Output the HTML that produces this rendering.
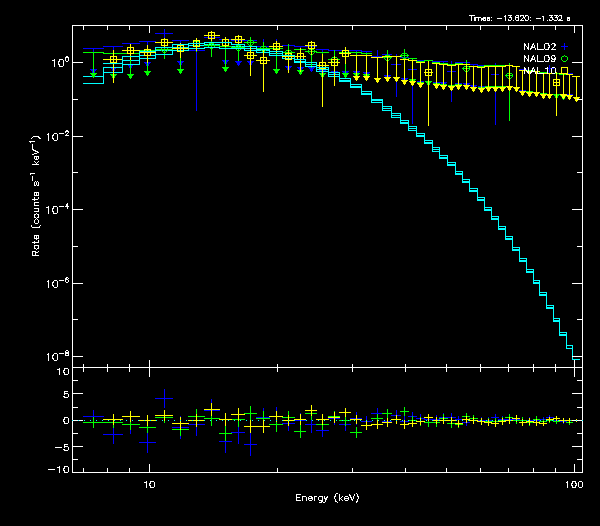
<!DOCTYPE html>
<html><head><meta charset="utf-8"><title>plot</title>
<style>
html,body{margin:0;padding:0;background:#000;overflow:hidden}
svg{display:block}
text{font-family:"Liberation Sans",sans-serif;fill:#fff}
</style></head><body>
<svg width="600" height="526" viewBox="0 0 600 526" shape-rendering="crispEdges">
<desc>Times: -13.620: -1.332 s. Rate (counts s-1 keV-1) versus Energy (keV). Legend: NAI_02, NAI_09, NAI_10. Residuals from -10 to 10.</desc>
<rect x="0" y="0" width="600" height="526" fill="#000"/>
<rect x="83" y="48" width="21" height="1" fill="#0000ff"/>
<rect x="93" y="48" width="1" height="21" fill="#0000ff"/>
<rect x="90" y="69" width="7" height="1" fill="#0000ff"/>
<rect x="91" y="70" width="5" height="1" fill="#0000ff"/>
<rect x="92" y="71" width="3" height="1" fill="#0000ff"/>
<rect x="92" y="72" width="3" height="1" fill="#0000ff"/>
<rect x="93" y="73" width="1" height="1" fill="#0000ff"/>
<rect x="103" y="46" width="20" height="1" fill="#0000ff"/>
<rect x="113" y="46" width="1" height="21" fill="#0000ff"/>
<rect x="110" y="67" width="7" height="1" fill="#0000ff"/>
<rect x="111" y="68" width="5" height="1" fill="#0000ff"/>
<rect x="112" y="69" width="3" height="1" fill="#0000ff"/>
<rect x="112" y="70" width="3" height="1" fill="#0000ff"/>
<rect x="113" y="71" width="1" height="1" fill="#0000ff"/>
<rect x="122" y="43" width="18" height="1" fill="#0000ff"/>
<rect x="130" y="43" width="1" height="21" fill="#0000ff"/>
<rect x="127" y="64" width="7" height="1" fill="#0000ff"/>
<rect x="128" y="65" width="5" height="1" fill="#0000ff"/>
<rect x="129" y="66" width="3" height="1" fill="#0000ff"/>
<rect x="129" y="67" width="3" height="1" fill="#0000ff"/>
<rect x="130" y="68" width="1" height="1" fill="#0000ff"/>
<rect x="139" y="41" width="17" height="1" fill="#0000ff"/>
<rect x="147" y="41" width="1" height="21" fill="#0000ff"/>
<rect x="144" y="62" width="7" height="1" fill="#0000ff"/>
<rect x="145" y="63" width="5" height="1" fill="#0000ff"/>
<rect x="146" y="64" width="3" height="1" fill="#0000ff"/>
<rect x="146" y="65" width="3" height="1" fill="#0000ff"/>
<rect x="147" y="66" width="1" height="1" fill="#0000ff"/>
<rect x="155" y="33" width="18" height="1" fill="#0000ff"/>
<rect x="164" y="29" width="1" height="10" fill="#0000ff"/>
<rect x="172" y="40" width="17" height="1" fill="#0000ff"/>
<rect x="180" y="40" width="1" height="21" fill="#0000ff"/>
<rect x="177" y="61" width="7" height="1" fill="#0000ff"/>
<rect x="178" y="62" width="5" height="1" fill="#0000ff"/>
<rect x="179" y="63" width="3" height="1" fill="#0000ff"/>
<rect x="179" y="64" width="3" height="1" fill="#0000ff"/>
<rect x="180" y="65" width="1" height="1" fill="#0000ff"/>
<rect x="188" y="50" width="17" height="1" fill="#0000ff"/>
<rect x="196" y="40" width="1" height="71" fill="#0000ff"/>
<rect x="204" y="37" width="16" height="1" fill="#0000ff"/>
<rect x="211" y="31" width="1" height="14" fill="#0000ff"/>
<rect x="219" y="39" width="13" height="1" fill="#0000ff"/>
<rect x="225" y="39" width="1" height="21" fill="#0000ff"/>
<rect x="222" y="60" width="7" height="1" fill="#0000ff"/>
<rect x="223" y="61" width="5" height="1" fill="#0000ff"/>
<rect x="224" y="62" width="3" height="1" fill="#0000ff"/>
<rect x="224" y="63" width="3" height="1" fill="#0000ff"/>
<rect x="225" y="64" width="1" height="1" fill="#0000ff"/>
<rect x="231" y="40" width="14" height="1" fill="#0000ff"/>
<rect x="238" y="40" width="1" height="21" fill="#0000ff"/>
<rect x="235" y="61" width="7" height="1" fill="#0000ff"/>
<rect x="236" y="62" width="5" height="1" fill="#0000ff"/>
<rect x="237" y="63" width="3" height="1" fill="#0000ff"/>
<rect x="237" y="64" width="3" height="1" fill="#0000ff"/>
<rect x="238" y="65" width="1" height="1" fill="#0000ff"/>
<rect x="244" y="40" width="13" height="1" fill="#0000ff"/>
<rect x="250" y="40" width="1" height="21" fill="#0000ff"/>
<rect x="247" y="61" width="7" height="1" fill="#0000ff"/>
<rect x="248" y="62" width="5" height="1" fill="#0000ff"/>
<rect x="249" y="63" width="3" height="1" fill="#0000ff"/>
<rect x="249" y="64" width="3" height="1" fill="#0000ff"/>
<rect x="250" y="65" width="1" height="1" fill="#0000ff"/>
<rect x="256" y="46" width="14" height="1" fill="#0000ff"/>
<rect x="263" y="39" width="1" height="18" fill="#0000ff"/>
<rect x="269" y="46" width="14" height="1" fill="#0000ff"/>
<rect x="276" y="39" width="1" height="17" fill="#0000ff"/>
<rect x="282" y="45" width="13" height="1" fill="#0000ff"/>
<rect x="288" y="45" width="1" height="21" fill="#0000ff"/>
<rect x="285" y="66" width="7" height="1" fill="#0000ff"/>
<rect x="286" y="67" width="5" height="1" fill="#0000ff"/>
<rect x="287" y="68" width="3" height="1" fill="#0000ff"/>
<rect x="287" y="69" width="3" height="1" fill="#0000ff"/>
<rect x="288" y="70" width="1" height="1" fill="#0000ff"/>
<rect x="294" y="46" width="12" height="1" fill="#0000ff"/>
<rect x="300" y="46" width="1" height="21" fill="#0000ff"/>
<rect x="297" y="67" width="7" height="1" fill="#0000ff"/>
<rect x="298" y="68" width="5" height="1" fill="#0000ff"/>
<rect x="299" y="69" width="3" height="1" fill="#0000ff"/>
<rect x="299" y="70" width="3" height="1" fill="#0000ff"/>
<rect x="300" y="71" width="1" height="1" fill="#0000ff"/>
<rect x="305" y="46" width="12" height="1" fill="#0000ff"/>
<rect x="311" y="46" width="1" height="21" fill="#0000ff"/>
<rect x="308" y="67" width="7" height="1" fill="#0000ff"/>
<rect x="309" y="68" width="5" height="1" fill="#0000ff"/>
<rect x="310" y="69" width="3" height="1" fill="#0000ff"/>
<rect x="310" y="70" width="3" height="1" fill="#0000ff"/>
<rect x="311" y="71" width="1" height="1" fill="#0000ff"/>
<rect x="316" y="49" width="13" height="1" fill="#0000ff"/>
<rect x="322" y="49" width="1" height="21" fill="#0000ff"/>
<rect x="319" y="70" width="7" height="1" fill="#0000ff"/>
<rect x="320" y="71" width="5" height="1" fill="#0000ff"/>
<rect x="321" y="72" width="3" height="1" fill="#0000ff"/>
<rect x="321" y="73" width="3" height="1" fill="#0000ff"/>
<rect x="322" y="74" width="1" height="1" fill="#0000ff"/>
<rect x="328" y="50" width="12" height="1" fill="#0000ff"/>
<rect x="334" y="50" width="1" height="21" fill="#0000ff"/>
<rect x="331" y="71" width="7" height="1" fill="#0000ff"/>
<rect x="332" y="72" width="5" height="1" fill="#0000ff"/>
<rect x="333" y="73" width="3" height="1" fill="#0000ff"/>
<rect x="333" y="74" width="3" height="1" fill="#0000ff"/>
<rect x="334" y="75" width="1" height="1" fill="#0000ff"/>
<rect x="339" y="50" width="12" height="1" fill="#0000ff"/>
<rect x="345" y="50" width="1" height="21" fill="#0000ff"/>
<rect x="342" y="71" width="7" height="1" fill="#0000ff"/>
<rect x="343" y="72" width="5" height="1" fill="#0000ff"/>
<rect x="344" y="73" width="3" height="1" fill="#0000ff"/>
<rect x="344" y="74" width="3" height="1" fill="#0000ff"/>
<rect x="345" y="75" width="1" height="1" fill="#0000ff"/>
<rect x="350" y="50" width="12" height="1" fill="#0000ff"/>
<rect x="356" y="50" width="1" height="21" fill="#0000ff"/>
<rect x="353" y="71" width="7" height="1" fill="#0000ff"/>
<rect x="354" y="72" width="5" height="1" fill="#0000ff"/>
<rect x="355" y="73" width="3" height="1" fill="#0000ff"/>
<rect x="355" y="74" width="3" height="1" fill="#0000ff"/>
<rect x="356" y="75" width="1" height="1" fill="#0000ff"/>
<rect x="361" y="51" width="11" height="1" fill="#0000ff"/>
<rect x="366" y="51" width="1" height="21" fill="#0000ff"/>
<rect x="363" y="72" width="7" height="1" fill="#0000ff"/>
<rect x="364" y="73" width="5" height="1" fill="#0000ff"/>
<rect x="365" y="74" width="3" height="1" fill="#0000ff"/>
<rect x="365" y="75" width="3" height="1" fill="#0000ff"/>
<rect x="366" y="76" width="1" height="1" fill="#0000ff"/>
<rect x="371" y="56" width="12" height="1" fill="#0000ff"/>
<rect x="377" y="50" width="1" height="15" fill="#0000ff"/>
<rect x="382" y="54" width="10" height="1" fill="#0000ff"/>
<rect x="387" y="54" width="1" height="21" fill="#0000ff"/>
<rect x="384" y="75" width="7" height="1" fill="#0000ff"/>
<rect x="385" y="76" width="5" height="1" fill="#0000ff"/>
<rect x="386" y="77" width="3" height="1" fill="#0000ff"/>
<rect x="386" y="78" width="3" height="1" fill="#0000ff"/>
<rect x="387" y="79" width="1" height="1" fill="#0000ff"/>
<rect x="391" y="64" width="10" height="1" fill="#0000ff"/>
<rect x="396" y="54" width="1" height="43" fill="#0000ff"/>
<rect x="400" y="57" width="9" height="1" fill="#0000ff"/>
<rect x="404" y="57" width="1" height="21" fill="#0000ff"/>
<rect x="401" y="78" width="7" height="1" fill="#0000ff"/>
<rect x="402" y="79" width="5" height="1" fill="#0000ff"/>
<rect x="403" y="80" width="3" height="1" fill="#0000ff"/>
<rect x="403" y="81" width="3" height="1" fill="#0000ff"/>
<rect x="404" y="82" width="1" height="1" fill="#0000ff"/>
<rect x="408" y="69" width="9" height="1" fill="#0000ff"/>
<rect x="412" y="58" width="1" height="66" fill="#0000ff"/>
<rect x="416" y="60" width="9" height="1" fill="#0000ff"/>
<rect x="420" y="60" width="1" height="21" fill="#0000ff"/>
<rect x="417" y="81" width="7" height="1" fill="#0000ff"/>
<rect x="418" y="82" width="5" height="1" fill="#0000ff"/>
<rect x="419" y="83" width="3" height="1" fill="#0000ff"/>
<rect x="419" y="84" width="3" height="1" fill="#0000ff"/>
<rect x="420" y="85" width="1" height="1" fill="#0000ff"/>
<rect x="424" y="60" width="9" height="1" fill="#0000ff"/>
<rect x="428" y="60" width="1" height="21" fill="#0000ff"/>
<rect x="425" y="81" width="7" height="1" fill="#0000ff"/>
<rect x="426" y="82" width="5" height="1" fill="#0000ff"/>
<rect x="427" y="83" width="3" height="1" fill="#0000ff"/>
<rect x="427" y="84" width="3" height="1" fill="#0000ff"/>
<rect x="428" y="85" width="1" height="1" fill="#0000ff"/>
<rect x="432" y="61" width="8" height="1" fill="#0000ff"/>
<rect x="436" y="61" width="1" height="21" fill="#0000ff"/>
<rect x="433" y="82" width="7" height="1" fill="#0000ff"/>
<rect x="434" y="83" width="5" height="1" fill="#0000ff"/>
<rect x="435" y="84" width="3" height="1" fill="#0000ff"/>
<rect x="435" y="85" width="3" height="1" fill="#0000ff"/>
<rect x="436" y="86" width="1" height="1" fill="#0000ff"/>
<rect x="439" y="61" width="9" height="1" fill="#0000ff"/>
<rect x="443" y="61" width="1" height="21" fill="#0000ff"/>
<rect x="440" y="82" width="7" height="1" fill="#0000ff"/>
<rect x="441" y="83" width="5" height="1" fill="#0000ff"/>
<rect x="442" y="84" width="3" height="1" fill="#0000ff"/>
<rect x="442" y="85" width="3" height="1" fill="#0000ff"/>
<rect x="443" y="86" width="1" height="1" fill="#0000ff"/>
<rect x="447" y="71" width="9" height="1" fill="#0000ff"/>
<rect x="451" y="61" width="1" height="41" fill="#0000ff"/>
<rect x="455" y="62" width="8" height="1" fill="#0000ff"/>
<rect x="458" y="62" width="1" height="21" fill="#0000ff"/>
<rect x="455" y="83" width="7" height="1" fill="#0000ff"/>
<rect x="456" y="84" width="5" height="1" fill="#0000ff"/>
<rect x="457" y="85" width="3" height="1" fill="#0000ff"/>
<rect x="457" y="86" width="3" height="1" fill="#0000ff"/>
<rect x="458" y="87" width="1" height="1" fill="#0000ff"/>
<rect x="462" y="62" width="8" height="1" fill="#0000ff"/>
<rect x="466" y="62" width="1" height="21" fill="#0000ff"/>
<rect x="463" y="83" width="7" height="1" fill="#0000ff"/>
<rect x="464" y="84" width="5" height="1" fill="#0000ff"/>
<rect x="465" y="85" width="3" height="1" fill="#0000ff"/>
<rect x="465" y="86" width="3" height="1" fill="#0000ff"/>
<rect x="466" y="87" width="1" height="1" fill="#0000ff"/>
<rect x="469" y="64" width="9" height="1" fill="#0000ff"/>
<rect x="473" y="64" width="1" height="21" fill="#0000ff"/>
<rect x="470" y="85" width="7" height="1" fill="#0000ff"/>
<rect x="471" y="86" width="5" height="1" fill="#0000ff"/>
<rect x="472" y="87" width="3" height="1" fill="#0000ff"/>
<rect x="472" y="88" width="3" height="1" fill="#0000ff"/>
<rect x="473" y="89" width="1" height="1" fill="#0000ff"/>
<rect x="477" y="65" width="8" height="1" fill="#0000ff"/>
<rect x="481" y="65" width="1" height="21" fill="#0000ff"/>
<rect x="478" y="86" width="7" height="1" fill="#0000ff"/>
<rect x="479" y="87" width="5" height="1" fill="#0000ff"/>
<rect x="480" y="88" width="3" height="1" fill="#0000ff"/>
<rect x="480" y="89" width="3" height="1" fill="#0000ff"/>
<rect x="481" y="90" width="1" height="1" fill="#0000ff"/>
<rect x="484" y="65" width="8" height="1" fill="#0000ff"/>
<rect x="488" y="65" width="1" height="21" fill="#0000ff"/>
<rect x="485" y="86" width="7" height="1" fill="#0000ff"/>
<rect x="486" y="87" width="5" height="1" fill="#0000ff"/>
<rect x="487" y="88" width="3" height="1" fill="#0000ff"/>
<rect x="487" y="89" width="3" height="1" fill="#0000ff"/>
<rect x="488" y="90" width="1" height="1" fill="#0000ff"/>
<rect x="491" y="74" width="8" height="1" fill="#0000ff"/>
<rect x="495" y="63" width="1" height="62" fill="#0000ff"/>
<rect x="498" y="65" width="8" height="1" fill="#0000ff"/>
<rect x="502" y="65" width="1" height="21" fill="#0000ff"/>
<rect x="499" y="86" width="7" height="1" fill="#0000ff"/>
<rect x="500" y="87" width="5" height="1" fill="#0000ff"/>
<rect x="501" y="88" width="3" height="1" fill="#0000ff"/>
<rect x="501" y="89" width="3" height="1" fill="#0000ff"/>
<rect x="502" y="90" width="1" height="1" fill="#0000ff"/>
<rect x="505" y="65" width="8" height="1" fill="#0000ff"/>
<rect x="509" y="65" width="1" height="21" fill="#0000ff"/>
<rect x="506" y="86" width="7" height="1" fill="#0000ff"/>
<rect x="507" y="87" width="5" height="1" fill="#0000ff"/>
<rect x="508" y="88" width="3" height="1" fill="#0000ff"/>
<rect x="508" y="89" width="3" height="1" fill="#0000ff"/>
<rect x="509" y="90" width="1" height="1" fill="#0000ff"/>
<rect x="512" y="66" width="8" height="1" fill="#0000ff"/>
<rect x="516" y="66" width="1" height="21" fill="#0000ff"/>
<rect x="513" y="87" width="7" height="1" fill="#0000ff"/>
<rect x="514" y="88" width="5" height="1" fill="#0000ff"/>
<rect x="515" y="89" width="3" height="1" fill="#0000ff"/>
<rect x="515" y="90" width="3" height="1" fill="#0000ff"/>
<rect x="516" y="91" width="1" height="1" fill="#0000ff"/>
<rect x="519" y="69" width="8" height="1" fill="#0000ff"/>
<rect x="522" y="69" width="1" height="21" fill="#0000ff"/>
<rect x="519" y="90" width="7" height="1" fill="#0000ff"/>
<rect x="520" y="91" width="5" height="1" fill="#0000ff"/>
<rect x="521" y="92" width="3" height="1" fill="#0000ff"/>
<rect x="521" y="93" width="3" height="1" fill="#0000ff"/>
<rect x="522" y="94" width="1" height="1" fill="#0000ff"/>
<rect x="526" y="71" width="8" height="1" fill="#0000ff"/>
<rect x="529" y="71" width="1" height="21" fill="#0000ff"/>
<rect x="526" y="92" width="7" height="1" fill="#0000ff"/>
<rect x="527" y="93" width="5" height="1" fill="#0000ff"/>
<rect x="528" y="94" width="3" height="1" fill="#0000ff"/>
<rect x="528" y="95" width="3" height="1" fill="#0000ff"/>
<rect x="529" y="96" width="1" height="1" fill="#0000ff"/>
<rect x="533" y="71" width="7" height="1" fill="#0000ff"/>
<rect x="536" y="71" width="1" height="21" fill="#0000ff"/>
<rect x="533" y="92" width="7" height="1" fill="#0000ff"/>
<rect x="534" y="93" width="5" height="1" fill="#0000ff"/>
<rect x="535" y="94" width="3" height="1" fill="#0000ff"/>
<rect x="535" y="95" width="3" height="1" fill="#0000ff"/>
<rect x="536" y="96" width="1" height="1" fill="#0000ff"/>
<rect x="539" y="73" width="8" height="1" fill="#0000ff"/>
<rect x="543" y="73" width="1" height="21" fill="#0000ff"/>
<rect x="540" y="94" width="7" height="1" fill="#0000ff"/>
<rect x="541" y="95" width="5" height="1" fill="#0000ff"/>
<rect x="542" y="96" width="3" height="1" fill="#0000ff"/>
<rect x="542" y="97" width="3" height="1" fill="#0000ff"/>
<rect x="543" y="98" width="1" height="1" fill="#0000ff"/>
<rect x="546" y="68" width="8" height="1" fill="#0000ff"/>
<rect x="549" y="65" width="1" height="8" fill="#0000ff"/>
<rect x="553" y="73" width="7" height="1" fill="#0000ff"/>
<rect x="556" y="73" width="1" height="21" fill="#0000ff"/>
<rect x="553" y="94" width="7" height="1" fill="#0000ff"/>
<rect x="554" y="95" width="5" height="1" fill="#0000ff"/>
<rect x="555" y="96" width="3" height="1" fill="#0000ff"/>
<rect x="555" y="97" width="3" height="1" fill="#0000ff"/>
<rect x="556" y="98" width="1" height="1" fill="#0000ff"/>
<rect x="559" y="73" width="8" height="1" fill="#0000ff"/>
<rect x="563" y="73" width="1" height="21" fill="#0000ff"/>
<rect x="560" y="94" width="7" height="1" fill="#0000ff"/>
<rect x="561" y="95" width="5" height="1" fill="#0000ff"/>
<rect x="562" y="96" width="3" height="1" fill="#0000ff"/>
<rect x="562" y="97" width="3" height="1" fill="#0000ff"/>
<rect x="563" y="98" width="1" height="1" fill="#0000ff"/>
<rect x="566" y="73" width="7" height="1" fill="#0000ff"/>
<rect x="569" y="73" width="1" height="21" fill="#0000ff"/>
<rect x="566" y="94" width="7" height="1" fill="#0000ff"/>
<rect x="567" y="95" width="5" height="1" fill="#0000ff"/>
<rect x="568" y="96" width="3" height="1" fill="#0000ff"/>
<rect x="568" y="97" width="3" height="1" fill="#0000ff"/>
<rect x="569" y="98" width="1" height="1" fill="#0000ff"/>
<rect x="83" y="76" width="21" height="1" fill="#00ffff"/>
<rect x="103" y="67" width="20" height="1" fill="#00ffff"/>
<rect x="103" y="67" width="1" height="10" fill="#00ffff"/>
<rect x="122" y="60" width="18" height="1" fill="#00ffff"/>
<rect x="122" y="60" width="1" height="8" fill="#00ffff"/>
<rect x="139" y="55" width="17" height="1" fill="#00ffff"/>
<rect x="139" y="55" width="1" height="6" fill="#00ffff"/>
<rect x="155" y="50" width="18" height="1" fill="#00ffff"/>
<rect x="155" y="50" width="1" height="6" fill="#00ffff"/>
<rect x="172" y="47" width="17" height="1" fill="#00ffff"/>
<rect x="172" y="47" width="1" height="4" fill="#00ffff"/>
<rect x="188" y="45" width="17" height="1" fill="#00ffff"/>
<rect x="188" y="45" width="1" height="3" fill="#00ffff"/>
<rect x="204" y="44" width="16" height="1" fill="#00ffff"/>
<rect x="204" y="44" width="1" height="2" fill="#00ffff"/>
<rect x="219" y="46" width="13" height="1" fill="#00ffff"/>
<rect x="219" y="44" width="1" height="3" fill="#00ffff"/>
<rect x="231" y="46" width="14" height="1" fill="#00ffff"/>
<rect x="231" y="46" width="1" height="1" fill="#00ffff"/>
<rect x="244" y="48" width="13" height="1" fill="#00ffff"/>
<rect x="244" y="46" width="1" height="3" fill="#00ffff"/>
<rect x="256" y="50" width="14" height="1" fill="#00ffff"/>
<rect x="256" y="48" width="1" height="3" fill="#00ffff"/>
<rect x="269" y="53" width="14" height="1" fill="#00ffff"/>
<rect x="269" y="50" width="1" height="4" fill="#00ffff"/>
<rect x="282" y="56" width="13" height="1" fill="#00ffff"/>
<rect x="282" y="53" width="1" height="4" fill="#00ffff"/>
<rect x="294" y="61" width="12" height="1" fill="#00ffff"/>
<rect x="294" y="56" width="1" height="6" fill="#00ffff"/>
<rect x="305" y="64" width="12" height="1" fill="#00ffff"/>
<rect x="305" y="61" width="1" height="4" fill="#00ffff"/>
<rect x="316" y="69" width="13" height="1" fill="#00ffff"/>
<rect x="316" y="64" width="1" height="6" fill="#00ffff"/>
<rect x="328" y="74" width="12" height="1" fill="#00ffff"/>
<rect x="328" y="69" width="1" height="6" fill="#00ffff"/>
<rect x="339" y="80" width="12" height="1" fill="#00ffff"/>
<rect x="339" y="74" width="1" height="7" fill="#00ffff"/>
<rect x="350" y="86" width="12" height="1" fill="#00ffff"/>
<rect x="350" y="80" width="1" height="7" fill="#00ffff"/>
<rect x="361" y="93" width="11" height="1" fill="#00ffff"/>
<rect x="361" y="86" width="1" height="8" fill="#00ffff"/>
<rect x="371" y="100" width="12" height="1" fill="#00ffff"/>
<rect x="371" y="93" width="1" height="8" fill="#00ffff"/>
<rect x="382" y="108" width="10" height="1" fill="#00ffff"/>
<rect x="382" y="100" width="1" height="9" fill="#00ffff"/>
<rect x="391" y="115" width="10" height="1" fill="#00ffff"/>
<rect x="391" y="108" width="1" height="8" fill="#00ffff"/>
<rect x="400" y="122" width="9" height="1" fill="#00ffff"/>
<rect x="400" y="115" width="1" height="8" fill="#00ffff"/>
<rect x="408" y="128" width="9" height="1" fill="#00ffff"/>
<rect x="408" y="122" width="1" height="7" fill="#00ffff"/>
<rect x="416" y="135" width="9" height="1" fill="#00ffff"/>
<rect x="416" y="128" width="1" height="8" fill="#00ffff"/>
<rect x="424" y="142" width="9" height="1" fill="#00ffff"/>
<rect x="424" y="135" width="1" height="8" fill="#00ffff"/>
<rect x="432" y="149" width="8" height="1" fill="#00ffff"/>
<rect x="432" y="142" width="1" height="8" fill="#00ffff"/>
<rect x="439" y="157" width="9" height="1" fill="#00ffff"/>
<rect x="439" y="149" width="1" height="9" fill="#00ffff"/>
<rect x="447" y="164" width="9" height="1" fill="#00ffff"/>
<rect x="447" y="157" width="1" height="8" fill="#00ffff"/>
<rect x="455" y="173" width="8" height="1" fill="#00ffff"/>
<rect x="455" y="164" width="1" height="10" fill="#00ffff"/>
<rect x="462" y="181" width="8" height="1" fill="#00ffff"/>
<rect x="462" y="173" width="1" height="9" fill="#00ffff"/>
<rect x="469" y="190" width="9" height="1" fill="#00ffff"/>
<rect x="469" y="181" width="1" height="10" fill="#00ffff"/>
<rect x="477" y="199" width="8" height="1" fill="#00ffff"/>
<rect x="477" y="190" width="1" height="10" fill="#00ffff"/>
<rect x="484" y="209" width="8" height="1" fill="#00ffff"/>
<rect x="484" y="199" width="1" height="11" fill="#00ffff"/>
<rect x="491" y="218" width="8" height="1" fill="#00ffff"/>
<rect x="491" y="209" width="1" height="10" fill="#00ffff"/>
<rect x="498" y="228" width="8" height="1" fill="#00ffff"/>
<rect x="498" y="218" width="1" height="11" fill="#00ffff"/>
<rect x="505" y="238" width="8" height="1" fill="#00ffff"/>
<rect x="505" y="228" width="1" height="11" fill="#00ffff"/>
<rect x="512" y="249" width="8" height="1" fill="#00ffff"/>
<rect x="512" y="238" width="1" height="12" fill="#00ffff"/>
<rect x="519" y="260" width="8" height="1" fill="#00ffff"/>
<rect x="519" y="249" width="1" height="12" fill="#00ffff"/>
<rect x="526" y="271" width="8" height="1" fill="#00ffff"/>
<rect x="526" y="260" width="1" height="12" fill="#00ffff"/>
<rect x="533" y="282" width="7" height="1" fill="#00ffff"/>
<rect x="533" y="271" width="1" height="12" fill="#00ffff"/>
<rect x="539" y="294" width="8" height="1" fill="#00ffff"/>
<rect x="539" y="282" width="1" height="13" fill="#00ffff"/>
<rect x="546" y="307" width="8" height="1" fill="#00ffff"/>
<rect x="546" y="294" width="1" height="14" fill="#00ffff"/>
<rect x="553" y="320" width="7" height="1" fill="#00ffff"/>
<rect x="553" y="307" width="1" height="14" fill="#00ffff"/>
<rect x="559" y="334" width="8" height="1" fill="#00ffff"/>
<rect x="559" y="320" width="1" height="15" fill="#00ffff"/>
<rect x="566" y="348" width="7" height="1" fill="#00ffff"/>
<rect x="566" y="334" width="1" height="15" fill="#00ffff"/>
<rect x="83" y="52" width="21" height="1" fill="#00ff00"/>
<rect x="93" y="52" width="1" height="21" fill="#00ff00"/>
<rect x="90" y="73" width="7" height="1" fill="#00ff00"/>
<rect x="91" y="74" width="5" height="1" fill="#00ff00"/>
<rect x="92" y="75" width="3" height="1" fill="#00ff00"/>
<rect x="92" y="76" width="3" height="1" fill="#00ff00"/>
<rect x="93" y="77" width="1" height="1" fill="#00ff00"/>
<rect x="103" y="53" width="20" height="1" fill="#00ff00"/>
<rect x="113" y="53" width="1" height="21" fill="#00ff00"/>
<rect x="110" y="74" width="7" height="1" fill="#00ff00"/>
<rect x="111" y="75" width="5" height="1" fill="#00ff00"/>
<rect x="112" y="76" width="3" height="1" fill="#00ff00"/>
<rect x="112" y="77" width="3" height="1" fill="#00ff00"/>
<rect x="113" y="78" width="1" height="1" fill="#00ff00"/>
<rect x="122" y="53" width="18" height="1" fill="#00ff00"/>
<rect x="130" y="53" width="1" height="21" fill="#00ff00"/>
<rect x="127" y="74" width="7" height="1" fill="#00ff00"/>
<rect x="128" y="75" width="5" height="1" fill="#00ff00"/>
<rect x="129" y="76" width="3" height="1" fill="#00ff00"/>
<rect x="129" y="77" width="3" height="1" fill="#00ff00"/>
<rect x="130" y="78" width="1" height="1" fill="#00ff00"/>
<rect x="139" y="50" width="17" height="1" fill="#00ff00"/>
<rect x="147" y="50" width="1" height="21" fill="#00ff00"/>
<rect x="144" y="71" width="7" height="1" fill="#00ff00"/>
<rect x="145" y="72" width="5" height="1" fill="#00ff00"/>
<rect x="146" y="73" width="3" height="1" fill="#00ff00"/>
<rect x="146" y="74" width="3" height="1" fill="#00ff00"/>
<rect x="147" y="75" width="1" height="1" fill="#00ff00"/>
<rect x="155" y="49" width="18" height="1" fill="#00ff00"/>
<rect x="164" y="46" width="1" height="13" fill="#00ff00"/>
<rect x="164" y="46" width="1" height="1" fill="#00ff00"/>
<rect x="162" y="47" width="1" height="1" fill="#00ff00"/>
<rect x="163" y="47" width="1" height="1" fill="#00ff00"/>
<rect x="165" y="47" width="1" height="1" fill="#00ff00"/>
<rect x="166" y="47" width="1" height="1" fill="#00ff00"/>
<rect x="161" y="48" width="1" height="1" fill="#00ff00"/>
<rect x="167" y="48" width="1" height="1" fill="#00ff00"/>
<rect x="161" y="49" width="1" height="1" fill="#00ff00"/>
<rect x="167" y="49" width="1" height="1" fill="#00ff00"/>
<rect x="161" y="50" width="1" height="1" fill="#00ff00"/>
<rect x="167" y="50" width="1" height="1" fill="#00ff00"/>
<rect x="162" y="51" width="1" height="1" fill="#00ff00"/>
<rect x="166" y="51" width="1" height="1" fill="#00ff00"/>
<rect x="163" y="52" width="1" height="1" fill="#00ff00"/>
<rect x="164" y="52" width="1" height="1" fill="#00ff00"/>
<rect x="165" y="52" width="1" height="1" fill="#00ff00"/>
<rect x="172" y="48" width="17" height="1" fill="#00ff00"/>
<rect x="180" y="48" width="1" height="21" fill="#00ff00"/>
<rect x="177" y="69" width="7" height="1" fill="#00ff00"/>
<rect x="178" y="70" width="5" height="1" fill="#00ff00"/>
<rect x="179" y="71" width="3" height="1" fill="#00ff00"/>
<rect x="179" y="72" width="3" height="1" fill="#00ff00"/>
<rect x="180" y="73" width="1" height="1" fill="#00ff00"/>
<rect x="188" y="43" width="17" height="1" fill="#00ff00"/>
<rect x="196" y="40" width="1" height="12" fill="#00ff00"/>
<rect x="196" y="40" width="1" height="1" fill="#00ff00"/>
<rect x="194" y="41" width="1" height="1" fill="#00ff00"/>
<rect x="195" y="41" width="1" height="1" fill="#00ff00"/>
<rect x="197" y="41" width="1" height="1" fill="#00ff00"/>
<rect x="198" y="41" width="1" height="1" fill="#00ff00"/>
<rect x="193" y="42" width="1" height="1" fill="#00ff00"/>
<rect x="199" y="42" width="1" height="1" fill="#00ff00"/>
<rect x="193" y="43" width="1" height="1" fill="#00ff00"/>
<rect x="199" y="43" width="1" height="1" fill="#00ff00"/>
<rect x="193" y="44" width="1" height="1" fill="#00ff00"/>
<rect x="199" y="44" width="1" height="1" fill="#00ff00"/>
<rect x="194" y="45" width="1" height="1" fill="#00ff00"/>
<rect x="198" y="45" width="1" height="1" fill="#00ff00"/>
<rect x="195" y="46" width="1" height="1" fill="#00ff00"/>
<rect x="196" y="46" width="1" height="1" fill="#00ff00"/>
<rect x="197" y="46" width="1" height="1" fill="#00ff00"/>
<rect x="204" y="45" width="16" height="1" fill="#00ff00"/>
<rect x="211" y="39" width="1" height="18" fill="#00ff00"/>
<rect x="211" y="42" width="1" height="1" fill="#00ff00"/>
<rect x="209" y="43" width="1" height="1" fill="#00ff00"/>
<rect x="210" y="43" width="1" height="1" fill="#00ff00"/>
<rect x="212" y="43" width="1" height="1" fill="#00ff00"/>
<rect x="213" y="43" width="1" height="1" fill="#00ff00"/>
<rect x="208" y="44" width="1" height="1" fill="#00ff00"/>
<rect x="214" y="44" width="1" height="1" fill="#00ff00"/>
<rect x="208" y="45" width="1" height="1" fill="#00ff00"/>
<rect x="214" y="45" width="1" height="1" fill="#00ff00"/>
<rect x="208" y="46" width="1" height="1" fill="#00ff00"/>
<rect x="214" y="46" width="1" height="1" fill="#00ff00"/>
<rect x="209" y="47" width="1" height="1" fill="#00ff00"/>
<rect x="213" y="47" width="1" height="1" fill="#00ff00"/>
<rect x="210" y="48" width="1" height="1" fill="#00ff00"/>
<rect x="211" y="48" width="1" height="1" fill="#00ff00"/>
<rect x="212" y="48" width="1" height="1" fill="#00ff00"/>
<rect x="219" y="46" width="13" height="1" fill="#00ff00"/>
<rect x="225" y="46" width="1" height="21" fill="#00ff00"/>
<rect x="222" y="67" width="7" height="1" fill="#00ff00"/>
<rect x="223" y="68" width="5" height="1" fill="#00ff00"/>
<rect x="224" y="69" width="3" height="1" fill="#00ff00"/>
<rect x="224" y="70" width="3" height="1" fill="#00ff00"/>
<rect x="225" y="71" width="1" height="1" fill="#00ff00"/>
<rect x="231" y="47" width="14" height="1" fill="#00ff00"/>
<rect x="238" y="43" width="1" height="18" fill="#00ff00"/>
<rect x="238" y="44" width="1" height="1" fill="#00ff00"/>
<rect x="236" y="45" width="1" height="1" fill="#00ff00"/>
<rect x="237" y="45" width="1" height="1" fill="#00ff00"/>
<rect x="239" y="45" width="1" height="1" fill="#00ff00"/>
<rect x="240" y="45" width="1" height="1" fill="#00ff00"/>
<rect x="235" y="46" width="1" height="1" fill="#00ff00"/>
<rect x="241" y="46" width="1" height="1" fill="#00ff00"/>
<rect x="235" y="47" width="1" height="1" fill="#00ff00"/>
<rect x="241" y="47" width="1" height="1" fill="#00ff00"/>
<rect x="235" y="48" width="1" height="1" fill="#00ff00"/>
<rect x="241" y="48" width="1" height="1" fill="#00ff00"/>
<rect x="236" y="49" width="1" height="1" fill="#00ff00"/>
<rect x="240" y="49" width="1" height="1" fill="#00ff00"/>
<rect x="237" y="50" width="1" height="1" fill="#00ff00"/>
<rect x="238" y="50" width="1" height="1" fill="#00ff00"/>
<rect x="239" y="50" width="1" height="1" fill="#00ff00"/>
<rect x="244" y="42" width="13" height="1" fill="#00ff00"/>
<rect x="250" y="37" width="1" height="11" fill="#00ff00"/>
<rect x="250" y="39" width="1" height="1" fill="#00ff00"/>
<rect x="248" y="40" width="1" height="1" fill="#00ff00"/>
<rect x="249" y="40" width="1" height="1" fill="#00ff00"/>
<rect x="251" y="40" width="1" height="1" fill="#00ff00"/>
<rect x="252" y="40" width="1" height="1" fill="#00ff00"/>
<rect x="247" y="41" width="1" height="1" fill="#00ff00"/>
<rect x="253" y="41" width="1" height="1" fill="#00ff00"/>
<rect x="247" y="42" width="1" height="1" fill="#00ff00"/>
<rect x="253" y="42" width="1" height="1" fill="#00ff00"/>
<rect x="247" y="43" width="1" height="1" fill="#00ff00"/>
<rect x="253" y="43" width="1" height="1" fill="#00ff00"/>
<rect x="248" y="44" width="1" height="1" fill="#00ff00"/>
<rect x="252" y="44" width="1" height="1" fill="#00ff00"/>
<rect x="249" y="45" width="1" height="1" fill="#00ff00"/>
<rect x="250" y="45" width="1" height="1" fill="#00ff00"/>
<rect x="251" y="45" width="1" height="1" fill="#00ff00"/>
<rect x="256" y="48" width="14" height="1" fill="#00ff00"/>
<rect x="263" y="42" width="1" height="15" fill="#00ff00"/>
<rect x="263" y="45" width="1" height="1" fill="#00ff00"/>
<rect x="261" y="46" width="1" height="1" fill="#00ff00"/>
<rect x="262" y="46" width="1" height="1" fill="#00ff00"/>
<rect x="264" y="46" width="1" height="1" fill="#00ff00"/>
<rect x="265" y="46" width="1" height="1" fill="#00ff00"/>
<rect x="260" y="47" width="1" height="1" fill="#00ff00"/>
<rect x="266" y="47" width="1" height="1" fill="#00ff00"/>
<rect x="260" y="48" width="1" height="1" fill="#00ff00"/>
<rect x="266" y="48" width="1" height="1" fill="#00ff00"/>
<rect x="260" y="49" width="1" height="1" fill="#00ff00"/>
<rect x="266" y="49" width="1" height="1" fill="#00ff00"/>
<rect x="261" y="50" width="1" height="1" fill="#00ff00"/>
<rect x="265" y="50" width="1" height="1" fill="#00ff00"/>
<rect x="262" y="51" width="1" height="1" fill="#00ff00"/>
<rect x="263" y="51" width="1" height="1" fill="#00ff00"/>
<rect x="264" y="51" width="1" height="1" fill="#00ff00"/>
<rect x="269" y="48" width="14" height="1" fill="#00ff00"/>
<rect x="276" y="48" width="1" height="21" fill="#00ff00"/>
<rect x="273" y="69" width="7" height="1" fill="#00ff00"/>
<rect x="274" y="70" width="5" height="1" fill="#00ff00"/>
<rect x="275" y="71" width="3" height="1" fill="#00ff00"/>
<rect x="275" y="72" width="3" height="1" fill="#00ff00"/>
<rect x="276" y="73" width="1" height="1" fill="#00ff00"/>
<rect x="282" y="52" width="13" height="1" fill="#00ff00"/>
<rect x="288" y="44" width="1" height="17" fill="#00ff00"/>
<rect x="288" y="49" width="1" height="1" fill="#00ff00"/>
<rect x="286" y="50" width="1" height="1" fill="#00ff00"/>
<rect x="287" y="50" width="1" height="1" fill="#00ff00"/>
<rect x="289" y="50" width="1" height="1" fill="#00ff00"/>
<rect x="290" y="50" width="1" height="1" fill="#00ff00"/>
<rect x="285" y="51" width="1" height="1" fill="#00ff00"/>
<rect x="291" y="51" width="1" height="1" fill="#00ff00"/>
<rect x="285" y="52" width="1" height="1" fill="#00ff00"/>
<rect x="291" y="52" width="1" height="1" fill="#00ff00"/>
<rect x="285" y="53" width="1" height="1" fill="#00ff00"/>
<rect x="291" y="53" width="1" height="1" fill="#00ff00"/>
<rect x="286" y="54" width="1" height="1" fill="#00ff00"/>
<rect x="290" y="54" width="1" height="1" fill="#00ff00"/>
<rect x="287" y="55" width="1" height="1" fill="#00ff00"/>
<rect x="288" y="55" width="1" height="1" fill="#00ff00"/>
<rect x="289" y="55" width="1" height="1" fill="#00ff00"/>
<rect x="294" y="49" width="12" height="1" fill="#00ff00"/>
<rect x="300" y="49" width="1" height="21" fill="#00ff00"/>
<rect x="297" y="70" width="7" height="1" fill="#00ff00"/>
<rect x="298" y="71" width="5" height="1" fill="#00ff00"/>
<rect x="299" y="72" width="3" height="1" fill="#00ff00"/>
<rect x="299" y="73" width="3" height="1" fill="#00ff00"/>
<rect x="300" y="74" width="1" height="1" fill="#00ff00"/>
<rect x="305" y="51" width="12" height="1" fill="#00ff00"/>
<rect x="311" y="46" width="1" height="22" fill="#00ff00"/>
<rect x="311" y="48" width="1" height="1" fill="#00ff00"/>
<rect x="309" y="49" width="1" height="1" fill="#00ff00"/>
<rect x="310" y="49" width="1" height="1" fill="#00ff00"/>
<rect x="312" y="49" width="1" height="1" fill="#00ff00"/>
<rect x="313" y="49" width="1" height="1" fill="#00ff00"/>
<rect x="308" y="50" width="1" height="1" fill="#00ff00"/>
<rect x="314" y="50" width="1" height="1" fill="#00ff00"/>
<rect x="308" y="51" width="1" height="1" fill="#00ff00"/>
<rect x="314" y="51" width="1" height="1" fill="#00ff00"/>
<rect x="308" y="52" width="1" height="1" fill="#00ff00"/>
<rect x="314" y="52" width="1" height="1" fill="#00ff00"/>
<rect x="309" y="53" width="1" height="1" fill="#00ff00"/>
<rect x="313" y="53" width="1" height="1" fill="#00ff00"/>
<rect x="310" y="54" width="1" height="1" fill="#00ff00"/>
<rect x="311" y="54" width="1" height="1" fill="#00ff00"/>
<rect x="312" y="54" width="1" height="1" fill="#00ff00"/>
<rect x="316" y="52" width="13" height="1" fill="#00ff00"/>
<rect x="322" y="52" width="1" height="21" fill="#00ff00"/>
<rect x="319" y="73" width="7" height="1" fill="#00ff00"/>
<rect x="320" y="74" width="5" height="1" fill="#00ff00"/>
<rect x="321" y="75" width="3" height="1" fill="#00ff00"/>
<rect x="321" y="76" width="3" height="1" fill="#00ff00"/>
<rect x="322" y="77" width="1" height="1" fill="#00ff00"/>
<rect x="328" y="59" width="12" height="1" fill="#00ff00"/>
<rect x="334" y="50" width="1" height="23" fill="#00ff00"/>
<rect x="334" y="56" width="1" height="1" fill="#00ff00"/>
<rect x="332" y="57" width="1" height="1" fill="#00ff00"/>
<rect x="333" y="57" width="1" height="1" fill="#00ff00"/>
<rect x="335" y="57" width="1" height="1" fill="#00ff00"/>
<rect x="336" y="57" width="1" height="1" fill="#00ff00"/>
<rect x="331" y="58" width="1" height="1" fill="#00ff00"/>
<rect x="337" y="58" width="1" height="1" fill="#00ff00"/>
<rect x="331" y="59" width="1" height="1" fill="#00ff00"/>
<rect x="337" y="59" width="1" height="1" fill="#00ff00"/>
<rect x="331" y="60" width="1" height="1" fill="#00ff00"/>
<rect x="337" y="60" width="1" height="1" fill="#00ff00"/>
<rect x="332" y="61" width="1" height="1" fill="#00ff00"/>
<rect x="336" y="61" width="1" height="1" fill="#00ff00"/>
<rect x="333" y="62" width="1" height="1" fill="#00ff00"/>
<rect x="334" y="62" width="1" height="1" fill="#00ff00"/>
<rect x="335" y="62" width="1" height="1" fill="#00ff00"/>
<rect x="339" y="52" width="12" height="1" fill="#00ff00"/>
<rect x="345" y="52" width="1" height="21" fill="#00ff00"/>
<rect x="342" y="73" width="7" height="1" fill="#00ff00"/>
<rect x="343" y="74" width="5" height="1" fill="#00ff00"/>
<rect x="344" y="75" width="3" height="1" fill="#00ff00"/>
<rect x="344" y="76" width="3" height="1" fill="#00ff00"/>
<rect x="345" y="77" width="1" height="1" fill="#00ff00"/>
<rect x="350" y="52" width="12" height="1" fill="#00ff00"/>
<rect x="356" y="52" width="1" height="21" fill="#00ff00"/>
<rect x="353" y="73" width="7" height="1" fill="#00ff00"/>
<rect x="354" y="74" width="5" height="1" fill="#00ff00"/>
<rect x="355" y="75" width="3" height="1" fill="#00ff00"/>
<rect x="355" y="76" width="3" height="1" fill="#00ff00"/>
<rect x="356" y="77" width="1" height="1" fill="#00ff00"/>
<rect x="361" y="53" width="11" height="1" fill="#00ff00"/>
<rect x="366" y="53" width="1" height="21" fill="#00ff00"/>
<rect x="363" y="74" width="7" height="1" fill="#00ff00"/>
<rect x="364" y="75" width="5" height="1" fill="#00ff00"/>
<rect x="365" y="76" width="3" height="1" fill="#00ff00"/>
<rect x="365" y="77" width="3" height="1" fill="#00ff00"/>
<rect x="366" y="78" width="1" height="1" fill="#00ff00"/>
<rect x="371" y="57" width="12" height="1" fill="#00ff00"/>
<rect x="377" y="57" width="1" height="21" fill="#00ff00"/>
<rect x="374" y="78" width="7" height="1" fill="#00ff00"/>
<rect x="375" y="79" width="5" height="1" fill="#00ff00"/>
<rect x="376" y="80" width="3" height="1" fill="#00ff00"/>
<rect x="376" y="81" width="3" height="1" fill="#00ff00"/>
<rect x="377" y="82" width="1" height="1" fill="#00ff00"/>
<rect x="382" y="57" width="10" height="1" fill="#00ff00"/>
<rect x="387" y="50" width="1" height="21" fill="#00ff00"/>
<rect x="387" y="54" width="1" height="1" fill="#00ff00"/>
<rect x="385" y="55" width="1" height="1" fill="#00ff00"/>
<rect x="386" y="55" width="1" height="1" fill="#00ff00"/>
<rect x="388" y="55" width="1" height="1" fill="#00ff00"/>
<rect x="389" y="55" width="1" height="1" fill="#00ff00"/>
<rect x="384" y="56" width="1" height="1" fill="#00ff00"/>
<rect x="390" y="56" width="1" height="1" fill="#00ff00"/>
<rect x="384" y="57" width="1" height="1" fill="#00ff00"/>
<rect x="390" y="57" width="1" height="1" fill="#00ff00"/>
<rect x="384" y="58" width="1" height="1" fill="#00ff00"/>
<rect x="390" y="58" width="1" height="1" fill="#00ff00"/>
<rect x="385" y="59" width="1" height="1" fill="#00ff00"/>
<rect x="389" y="59" width="1" height="1" fill="#00ff00"/>
<rect x="386" y="60" width="1" height="1" fill="#00ff00"/>
<rect x="387" y="60" width="1" height="1" fill="#00ff00"/>
<rect x="388" y="60" width="1" height="1" fill="#00ff00"/>
<rect x="391" y="56" width="10" height="1" fill="#00ff00"/>
<rect x="396" y="56" width="1" height="21" fill="#00ff00"/>
<rect x="393" y="77" width="7" height="1" fill="#00ff00"/>
<rect x="394" y="78" width="5" height="1" fill="#00ff00"/>
<rect x="395" y="79" width="3" height="1" fill="#00ff00"/>
<rect x="395" y="80" width="3" height="1" fill="#00ff00"/>
<rect x="396" y="81" width="1" height="1" fill="#00ff00"/>
<rect x="400" y="55" width="9" height="1" fill="#00ff00"/>
<rect x="404" y="49" width="1" height="16" fill="#00ff00"/>
<rect x="404" y="52" width="1" height="1" fill="#00ff00"/>
<rect x="402" y="53" width="1" height="1" fill="#00ff00"/>
<rect x="403" y="53" width="1" height="1" fill="#00ff00"/>
<rect x="405" y="53" width="1" height="1" fill="#00ff00"/>
<rect x="406" y="53" width="1" height="1" fill="#00ff00"/>
<rect x="401" y="54" width="1" height="1" fill="#00ff00"/>
<rect x="407" y="54" width="1" height="1" fill="#00ff00"/>
<rect x="401" y="55" width="1" height="1" fill="#00ff00"/>
<rect x="407" y="55" width="1" height="1" fill="#00ff00"/>
<rect x="401" y="56" width="1" height="1" fill="#00ff00"/>
<rect x="407" y="56" width="1" height="1" fill="#00ff00"/>
<rect x="402" y="57" width="1" height="1" fill="#00ff00"/>
<rect x="406" y="57" width="1" height="1" fill="#00ff00"/>
<rect x="403" y="58" width="1" height="1" fill="#00ff00"/>
<rect x="404" y="58" width="1" height="1" fill="#00ff00"/>
<rect x="405" y="58" width="1" height="1" fill="#00ff00"/>
<rect x="408" y="58" width="9" height="1" fill="#00ff00"/>
<rect x="412" y="58" width="1" height="21" fill="#00ff00"/>
<rect x="409" y="79" width="7" height="1" fill="#00ff00"/>
<rect x="410" y="80" width="5" height="1" fill="#00ff00"/>
<rect x="411" y="81" width="3" height="1" fill="#00ff00"/>
<rect x="411" y="82" width="3" height="1" fill="#00ff00"/>
<rect x="412" y="83" width="1" height="1" fill="#00ff00"/>
<rect x="416" y="61" width="9" height="1" fill="#00ff00"/>
<rect x="420" y="61" width="1" height="21" fill="#00ff00"/>
<rect x="417" y="82" width="7" height="1" fill="#00ff00"/>
<rect x="418" y="83" width="5" height="1" fill="#00ff00"/>
<rect x="419" y="84" width="3" height="1" fill="#00ff00"/>
<rect x="419" y="85" width="3" height="1" fill="#00ff00"/>
<rect x="420" y="86" width="1" height="1" fill="#00ff00"/>
<rect x="424" y="60" width="9" height="1" fill="#00ff00"/>
<rect x="428" y="60" width="1" height="21" fill="#00ff00"/>
<rect x="425" y="81" width="7" height="1" fill="#00ff00"/>
<rect x="426" y="82" width="5" height="1" fill="#00ff00"/>
<rect x="427" y="83" width="3" height="1" fill="#00ff00"/>
<rect x="427" y="84" width="3" height="1" fill="#00ff00"/>
<rect x="428" y="85" width="1" height="1" fill="#00ff00"/>
<rect x="432" y="62" width="8" height="1" fill="#00ff00"/>
<rect x="436" y="62" width="1" height="21" fill="#00ff00"/>
<rect x="433" y="83" width="7" height="1" fill="#00ff00"/>
<rect x="434" y="84" width="5" height="1" fill="#00ff00"/>
<rect x="435" y="85" width="3" height="1" fill="#00ff00"/>
<rect x="435" y="86" width="3" height="1" fill="#00ff00"/>
<rect x="436" y="87" width="1" height="1" fill="#00ff00"/>
<rect x="439" y="63" width="9" height="1" fill="#00ff00"/>
<rect x="443" y="63" width="1" height="21" fill="#00ff00"/>
<rect x="440" y="84" width="7" height="1" fill="#00ff00"/>
<rect x="441" y="85" width="5" height="1" fill="#00ff00"/>
<rect x="442" y="86" width="3" height="1" fill="#00ff00"/>
<rect x="442" y="87" width="3" height="1" fill="#00ff00"/>
<rect x="443" y="88" width="1" height="1" fill="#00ff00"/>
<rect x="447" y="64" width="9" height="1" fill="#00ff00"/>
<rect x="451" y="64" width="1" height="21" fill="#00ff00"/>
<rect x="448" y="85" width="7" height="1" fill="#00ff00"/>
<rect x="449" y="86" width="5" height="1" fill="#00ff00"/>
<rect x="450" y="87" width="3" height="1" fill="#00ff00"/>
<rect x="450" y="88" width="3" height="1" fill="#00ff00"/>
<rect x="451" y="89" width="1" height="1" fill="#00ff00"/>
<rect x="455" y="63" width="8" height="1" fill="#00ff00"/>
<rect x="458" y="63" width="1" height="21" fill="#00ff00"/>
<rect x="455" y="84" width="7" height="1" fill="#00ff00"/>
<rect x="456" y="85" width="5" height="1" fill="#00ff00"/>
<rect x="457" y="86" width="3" height="1" fill="#00ff00"/>
<rect x="457" y="87" width="3" height="1" fill="#00ff00"/>
<rect x="458" y="88" width="1" height="1" fill="#00ff00"/>
<rect x="462" y="68" width="8" height="1" fill="#00ff00"/>
<rect x="466" y="60" width="1" height="23" fill="#00ff00"/>
<rect x="466" y="65" width="1" height="1" fill="#00ff00"/>
<rect x="464" y="66" width="1" height="1" fill="#00ff00"/>
<rect x="465" y="66" width="1" height="1" fill="#00ff00"/>
<rect x="467" y="66" width="1" height="1" fill="#00ff00"/>
<rect x="468" y="66" width="1" height="1" fill="#00ff00"/>
<rect x="463" y="67" width="1" height="1" fill="#00ff00"/>
<rect x="469" y="67" width="1" height="1" fill="#00ff00"/>
<rect x="463" y="68" width="1" height="1" fill="#00ff00"/>
<rect x="469" y="68" width="1" height="1" fill="#00ff00"/>
<rect x="463" y="69" width="1" height="1" fill="#00ff00"/>
<rect x="469" y="69" width="1" height="1" fill="#00ff00"/>
<rect x="464" y="70" width="1" height="1" fill="#00ff00"/>
<rect x="468" y="70" width="1" height="1" fill="#00ff00"/>
<rect x="465" y="71" width="1" height="1" fill="#00ff00"/>
<rect x="466" y="71" width="1" height="1" fill="#00ff00"/>
<rect x="467" y="71" width="1" height="1" fill="#00ff00"/>
<rect x="469" y="66" width="9" height="1" fill="#00ff00"/>
<rect x="473" y="66" width="1" height="21" fill="#00ff00"/>
<rect x="470" y="87" width="7" height="1" fill="#00ff00"/>
<rect x="471" y="88" width="5" height="1" fill="#00ff00"/>
<rect x="472" y="89" width="3" height="1" fill="#00ff00"/>
<rect x="472" y="90" width="3" height="1" fill="#00ff00"/>
<rect x="473" y="91" width="1" height="1" fill="#00ff00"/>
<rect x="477" y="66" width="8" height="1" fill="#00ff00"/>
<rect x="481" y="66" width="1" height="21" fill="#00ff00"/>
<rect x="478" y="87" width="7" height="1" fill="#00ff00"/>
<rect x="479" y="88" width="5" height="1" fill="#00ff00"/>
<rect x="480" y="89" width="3" height="1" fill="#00ff00"/>
<rect x="480" y="90" width="3" height="1" fill="#00ff00"/>
<rect x="481" y="91" width="1" height="1" fill="#00ff00"/>
<rect x="484" y="65" width="8" height="1" fill="#00ff00"/>
<rect x="488" y="65" width="1" height="21" fill="#00ff00"/>
<rect x="485" y="86" width="7" height="1" fill="#00ff00"/>
<rect x="486" y="87" width="5" height="1" fill="#00ff00"/>
<rect x="487" y="88" width="3" height="1" fill="#00ff00"/>
<rect x="487" y="89" width="3" height="1" fill="#00ff00"/>
<rect x="488" y="90" width="1" height="1" fill="#00ff00"/>
<rect x="491" y="65" width="8" height="1" fill="#00ff00"/>
<rect x="495" y="65" width="1" height="21" fill="#00ff00"/>
<rect x="492" y="86" width="7" height="1" fill="#00ff00"/>
<rect x="493" y="87" width="5" height="1" fill="#00ff00"/>
<rect x="494" y="88" width="3" height="1" fill="#00ff00"/>
<rect x="494" y="89" width="3" height="1" fill="#00ff00"/>
<rect x="495" y="90" width="1" height="1" fill="#00ff00"/>
<rect x="498" y="65" width="8" height="1" fill="#00ff00"/>
<rect x="502" y="65" width="1" height="21" fill="#00ff00"/>
<rect x="499" y="86" width="7" height="1" fill="#00ff00"/>
<rect x="500" y="87" width="5" height="1" fill="#00ff00"/>
<rect x="501" y="88" width="3" height="1" fill="#00ff00"/>
<rect x="501" y="89" width="3" height="1" fill="#00ff00"/>
<rect x="502" y="90" width="1" height="1" fill="#00ff00"/>
<rect x="505" y="75" width="8" height="1" fill="#00ff00"/>
<rect x="509" y="63" width="1" height="58" fill="#00ff00"/>
<rect x="509" y="72" width="1" height="1" fill="#00ff00"/>
<rect x="507" y="73" width="1" height="1" fill="#00ff00"/>
<rect x="508" y="73" width="1" height="1" fill="#00ff00"/>
<rect x="510" y="73" width="1" height="1" fill="#00ff00"/>
<rect x="511" y="73" width="1" height="1" fill="#00ff00"/>
<rect x="506" y="74" width="1" height="1" fill="#00ff00"/>
<rect x="512" y="74" width="1" height="1" fill="#00ff00"/>
<rect x="506" y="75" width="1" height="1" fill="#00ff00"/>
<rect x="512" y="75" width="1" height="1" fill="#00ff00"/>
<rect x="506" y="76" width="1" height="1" fill="#00ff00"/>
<rect x="512" y="76" width="1" height="1" fill="#00ff00"/>
<rect x="507" y="77" width="1" height="1" fill="#00ff00"/>
<rect x="511" y="77" width="1" height="1" fill="#00ff00"/>
<rect x="508" y="78" width="1" height="1" fill="#00ff00"/>
<rect x="509" y="78" width="1" height="1" fill="#00ff00"/>
<rect x="510" y="78" width="1" height="1" fill="#00ff00"/>
<rect x="512" y="66" width="8" height="1" fill="#00ff00"/>
<rect x="516" y="66" width="1" height="21" fill="#00ff00"/>
<rect x="513" y="87" width="7" height="1" fill="#00ff00"/>
<rect x="514" y="88" width="5" height="1" fill="#00ff00"/>
<rect x="515" y="89" width="3" height="1" fill="#00ff00"/>
<rect x="515" y="90" width="3" height="1" fill="#00ff00"/>
<rect x="516" y="91" width="1" height="1" fill="#00ff00"/>
<rect x="519" y="70" width="8" height="1" fill="#00ff00"/>
<rect x="522" y="70" width="1" height="21" fill="#00ff00"/>
<rect x="519" y="91" width="7" height="1" fill="#00ff00"/>
<rect x="520" y="92" width="5" height="1" fill="#00ff00"/>
<rect x="521" y="93" width="3" height="1" fill="#00ff00"/>
<rect x="521" y="94" width="3" height="1" fill="#00ff00"/>
<rect x="522" y="95" width="1" height="1" fill="#00ff00"/>
<rect x="526" y="70" width="8" height="1" fill="#00ff00"/>
<rect x="529" y="70" width="1" height="21" fill="#00ff00"/>
<rect x="526" y="91" width="7" height="1" fill="#00ff00"/>
<rect x="527" y="92" width="5" height="1" fill="#00ff00"/>
<rect x="528" y="93" width="3" height="1" fill="#00ff00"/>
<rect x="528" y="94" width="3" height="1" fill="#00ff00"/>
<rect x="529" y="95" width="1" height="1" fill="#00ff00"/>
<rect x="533" y="71" width="7" height="1" fill="#00ff00"/>
<rect x="536" y="71" width="1" height="21" fill="#00ff00"/>
<rect x="533" y="92" width="7" height="1" fill="#00ff00"/>
<rect x="534" y="93" width="5" height="1" fill="#00ff00"/>
<rect x="535" y="94" width="3" height="1" fill="#00ff00"/>
<rect x="535" y="95" width="3" height="1" fill="#00ff00"/>
<rect x="536" y="96" width="1" height="1" fill="#00ff00"/>
<rect x="539" y="72" width="8" height="1" fill="#00ff00"/>
<rect x="543" y="72" width="1" height="21" fill="#00ff00"/>
<rect x="540" y="93" width="7" height="1" fill="#00ff00"/>
<rect x="541" y="94" width="5" height="1" fill="#00ff00"/>
<rect x="542" y="95" width="3" height="1" fill="#00ff00"/>
<rect x="542" y="96" width="3" height="1" fill="#00ff00"/>
<rect x="543" y="97" width="1" height="1" fill="#00ff00"/>
<rect x="546" y="73" width="8" height="1" fill="#00ff00"/>
<rect x="549" y="73" width="1" height="21" fill="#00ff00"/>
<rect x="546" y="94" width="7" height="1" fill="#00ff00"/>
<rect x="547" y="95" width="5" height="1" fill="#00ff00"/>
<rect x="548" y="96" width="3" height="1" fill="#00ff00"/>
<rect x="548" y="97" width="3" height="1" fill="#00ff00"/>
<rect x="549" y="98" width="1" height="1" fill="#00ff00"/>
<rect x="553" y="73" width="7" height="1" fill="#00ff00"/>
<rect x="556" y="73" width="1" height="21" fill="#00ff00"/>
<rect x="553" y="94" width="7" height="1" fill="#00ff00"/>
<rect x="554" y="95" width="5" height="1" fill="#00ff00"/>
<rect x="555" y="96" width="3" height="1" fill="#00ff00"/>
<rect x="555" y="97" width="3" height="1" fill="#00ff00"/>
<rect x="556" y="98" width="1" height="1" fill="#00ff00"/>
<rect x="559" y="74" width="8" height="1" fill="#00ff00"/>
<rect x="563" y="74" width="1" height="21" fill="#00ff00"/>
<rect x="560" y="95" width="7" height="1" fill="#00ff00"/>
<rect x="561" y="96" width="5" height="1" fill="#00ff00"/>
<rect x="562" y="97" width="3" height="1" fill="#00ff00"/>
<rect x="562" y="98" width="3" height="1" fill="#00ff00"/>
<rect x="563" y="99" width="1" height="1" fill="#00ff00"/>
<rect x="566" y="74" width="7" height="1" fill="#00ff00"/>
<rect x="569" y="74" width="1" height="21" fill="#00ff00"/>
<rect x="566" y="95" width="7" height="1" fill="#00ff00"/>
<rect x="567" y="96" width="5" height="1" fill="#00ff00"/>
<rect x="568" y="97" width="3" height="1" fill="#00ff00"/>
<rect x="568" y="98" width="3" height="1" fill="#00ff00"/>
<rect x="569" y="99" width="1" height="1" fill="#00ff00"/>
<rect x="83" y="83" width="21" height="1" fill="#00ffff"/>
<rect x="103" y="72" width="20" height="1" fill="#00ffff"/>
<rect x="103" y="72" width="1" height="12" fill="#00ffff"/>
<rect x="122" y="64" width="18" height="1" fill="#00ffff"/>
<rect x="122" y="64" width="1" height="9" fill="#00ffff"/>
<rect x="139" y="58" width="17" height="1" fill="#00ffff"/>
<rect x="139" y="58" width="1" height="7" fill="#00ffff"/>
<rect x="155" y="54" width="18" height="1" fill="#00ffff"/>
<rect x="155" y="54" width="1" height="5" fill="#00ffff"/>
<rect x="172" y="50" width="17" height="1" fill="#00ffff"/>
<rect x="172" y="50" width="1" height="5" fill="#00ffff"/>
<rect x="188" y="48" width="17" height="1" fill="#00ffff"/>
<rect x="188" y="48" width="1" height="3" fill="#00ffff"/>
<rect x="204" y="47" width="16" height="1" fill="#00ffff"/>
<rect x="204" y="47" width="1" height="2" fill="#00ffff"/>
<rect x="219" y="48" width="13" height="1" fill="#00ffff"/>
<rect x="219" y="47" width="1" height="2" fill="#00ffff"/>
<rect x="231" y="48" width="14" height="1" fill="#00ffff"/>
<rect x="231" y="48" width="1" height="1" fill="#00ffff"/>
<rect x="244" y="50" width="13" height="1" fill="#00ffff"/>
<rect x="244" y="48" width="1" height="3" fill="#00ffff"/>
<rect x="256" y="52" width="14" height="1" fill="#00ffff"/>
<rect x="256" y="50" width="1" height="3" fill="#00ffff"/>
<rect x="269" y="55" width="14" height="1" fill="#00ffff"/>
<rect x="269" y="52" width="1" height="4" fill="#00ffff"/>
<rect x="282" y="58" width="13" height="1" fill="#00ffff"/>
<rect x="282" y="55" width="1" height="4" fill="#00ffff"/>
<rect x="294" y="62" width="12" height="1" fill="#00ffff"/>
<rect x="294" y="58" width="1" height="5" fill="#00ffff"/>
<rect x="305" y="66" width="12" height="1" fill="#00ffff"/>
<rect x="305" y="62" width="1" height="5" fill="#00ffff"/>
<rect x="316" y="71" width="13" height="1" fill="#00ffff"/>
<rect x="316" y="66" width="1" height="6" fill="#00ffff"/>
<rect x="328" y="76" width="12" height="1" fill="#00ffff"/>
<rect x="328" y="71" width="1" height="6" fill="#00ffff"/>
<rect x="339" y="81" width="12" height="1" fill="#00ffff"/>
<rect x="339" y="76" width="1" height="6" fill="#00ffff"/>
<rect x="350" y="87" width="12" height="1" fill="#00ffff"/>
<rect x="350" y="81" width="1" height="7" fill="#00ffff"/>
<rect x="361" y="94" width="11" height="1" fill="#00ffff"/>
<rect x="361" y="87" width="1" height="8" fill="#00ffff"/>
<rect x="371" y="102" width="12" height="1" fill="#00ffff"/>
<rect x="371" y="94" width="1" height="9" fill="#00ffff"/>
<rect x="382" y="110" width="10" height="1" fill="#00ffff"/>
<rect x="382" y="102" width="1" height="9" fill="#00ffff"/>
<rect x="391" y="117" width="10" height="1" fill="#00ffff"/>
<rect x="391" y="110" width="1" height="8" fill="#00ffff"/>
<rect x="400" y="123" width="9" height="1" fill="#00ffff"/>
<rect x="400" y="117" width="1" height="7" fill="#00ffff"/>
<rect x="408" y="130" width="9" height="1" fill="#00ffff"/>
<rect x="408" y="123" width="1" height="8" fill="#00ffff"/>
<rect x="416" y="136" width="9" height="1" fill="#00ffff"/>
<rect x="416" y="130" width="1" height="7" fill="#00ffff"/>
<rect x="424" y="143" width="9" height="1" fill="#00ffff"/>
<rect x="424" y="136" width="1" height="8" fill="#00ffff"/>
<rect x="432" y="151" width="8" height="1" fill="#00ffff"/>
<rect x="432" y="143" width="1" height="9" fill="#00ffff"/>
<rect x="439" y="158" width="9" height="1" fill="#00ffff"/>
<rect x="439" y="151" width="1" height="8" fill="#00ffff"/>
<rect x="447" y="165" width="9" height="1" fill="#00ffff"/>
<rect x="447" y="158" width="1" height="8" fill="#00ffff"/>
<rect x="455" y="174" width="8" height="1" fill="#00ffff"/>
<rect x="455" y="165" width="1" height="10" fill="#00ffff"/>
<rect x="462" y="182" width="8" height="1" fill="#00ffff"/>
<rect x="462" y="174" width="1" height="9" fill="#00ffff"/>
<rect x="469" y="191" width="9" height="1" fill="#00ffff"/>
<rect x="469" y="182" width="1" height="10" fill="#00ffff"/>
<rect x="477" y="200" width="8" height="1" fill="#00ffff"/>
<rect x="477" y="191" width="1" height="10" fill="#00ffff"/>
<rect x="484" y="210" width="8" height="1" fill="#00ffff"/>
<rect x="484" y="200" width="1" height="11" fill="#00ffff"/>
<rect x="491" y="219" width="8" height="1" fill="#00ffff"/>
<rect x="491" y="210" width="1" height="10" fill="#00ffff"/>
<rect x="498" y="229" width="8" height="1" fill="#00ffff"/>
<rect x="498" y="219" width="1" height="11" fill="#00ffff"/>
<rect x="505" y="239" width="8" height="1" fill="#00ffff"/>
<rect x="505" y="229" width="1" height="11" fill="#00ffff"/>
<rect x="512" y="250" width="8" height="1" fill="#00ffff"/>
<rect x="512" y="239" width="1" height="12" fill="#00ffff"/>
<rect x="519" y="261" width="8" height="1" fill="#00ffff"/>
<rect x="519" y="250" width="1" height="12" fill="#00ffff"/>
<rect x="526" y="272" width="8" height="1" fill="#00ffff"/>
<rect x="526" y="261" width="1" height="12" fill="#00ffff"/>
<rect x="533" y="283" width="7" height="1" fill="#00ffff"/>
<rect x="533" y="272" width="1" height="12" fill="#00ffff"/>
<rect x="539" y="295" width="8" height="1" fill="#00ffff"/>
<rect x="539" y="283" width="1" height="13" fill="#00ffff"/>
<rect x="546" y="308" width="8" height="1" fill="#00ffff"/>
<rect x="546" y="295" width="1" height="14" fill="#00ffff"/>
<rect x="553" y="321" width="7" height="1" fill="#00ffff"/>
<rect x="553" y="308" width="1" height="14" fill="#00ffff"/>
<rect x="559" y="335" width="8" height="1" fill="#00ffff"/>
<rect x="559" y="321" width="1" height="15" fill="#00ffff"/>
<rect x="103" y="59" width="20" height="1" fill="#ffff00"/>
<rect x="113" y="50" width="1" height="33" fill="#ffff00"/>
<rect x="110.5" y="56.5" width="6" height="6" fill="none" stroke="#ffff00" stroke-width="1"/>
<rect x="122" y="50" width="18" height="1" fill="#ffff00"/>
<rect x="130" y="44" width="1" height="16" fill="#ffff00"/>
<rect x="127.5" y="47.5" width="6" height="6" fill="none" stroke="#ffff00" stroke-width="1"/>
<rect x="139" y="52" width="17" height="1" fill="#ffff00"/>
<rect x="147" y="45" width="1" height="18" fill="#ffff00"/>
<rect x="144.5" y="49.5" width="6" height="6" fill="none" stroke="#ffff00" stroke-width="1"/>
<rect x="155" y="42" width="18" height="1" fill="#ffff00"/>
<rect x="164" y="38" width="1" height="9" fill="#ffff00"/>
<rect x="161.5" y="39.5" width="6" height="6" fill="none" stroke="#ffff00" stroke-width="1"/>
<rect x="172" y="48" width="17" height="1" fill="#ffff00"/>
<rect x="180" y="43" width="1" height="15" fill="#ffff00"/>
<rect x="177.5" y="45.5" width="6" height="6" fill="none" stroke="#ffff00" stroke-width="1"/>
<rect x="188" y="43" width="17" height="1" fill="#ffff00"/>
<rect x="196" y="38" width="1" height="13" fill="#ffff00"/>
<rect x="193.5" y="40.5" width="6" height="6" fill="none" stroke="#ffff00" stroke-width="1"/>
<rect x="204" y="35" width="16" height="1" fill="#ffff00"/>
<rect x="211" y="31" width="1" height="10" fill="#ffff00"/>
<rect x="208.5" y="32.5" width="6" height="6" fill="none" stroke="#ffff00" stroke-width="1"/>
<rect x="219" y="42" width="13" height="1" fill="#ffff00"/>
<rect x="225" y="37" width="1" height="10" fill="#ffff00"/>
<rect x="222.5" y="39.5" width="6" height="6" fill="none" stroke="#ffff00" stroke-width="1"/>
<rect x="231" y="39" width="14" height="1" fill="#ffff00"/>
<rect x="238" y="35" width="1" height="10" fill="#ffff00"/>
<rect x="235.5" y="36.5" width="6" height="6" fill="none" stroke="#ffff00" stroke-width="1"/>
<rect x="244" y="55" width="13" height="1" fill="#ffff00"/>
<rect x="250" y="46" width="1" height="30" fill="#ffff00"/>
<rect x="247.5" y="52.5" width="6" height="6" fill="none" stroke="#ffff00" stroke-width="1"/>
<rect x="256" y="60" width="14" height="1" fill="#ffff00"/>
<rect x="263" y="50" width="1" height="42" fill="#ffff00"/>
<rect x="260.5" y="57.5" width="6" height="6" fill="none" stroke="#ffff00" stroke-width="1"/>
<rect x="269" y="46" width="14" height="1" fill="#ffff00"/>
<rect x="276" y="41" width="1" height="12" fill="#ffff00"/>
<rect x="273.5" y="43.5" width="6" height="6" fill="none" stroke="#ffff00" stroke-width="1"/>
<rect x="282" y="56" width="13" height="1" fill="#ffff00"/>
<rect x="288" y="50" width="1" height="23" fill="#ffff00"/>
<rect x="285.5" y="53.5" width="6" height="6" fill="none" stroke="#ffff00" stroke-width="1"/>
<rect x="294" y="56" width="12" height="1" fill="#ffff00"/>
<rect x="300" y="48" width="1" height="24" fill="#ffff00"/>
<rect x="297.5" y="53.5" width="6" height="6" fill="none" stroke="#ffff00" stroke-width="1"/>
<rect x="305" y="45" width="12" height="1" fill="#ffff00"/>
<rect x="311" y="41" width="1" height="14" fill="#ffff00"/>
<rect x="308.5" y="42.5" width="6" height="6" fill="none" stroke="#ffff00" stroke-width="1"/>
<rect x="316" y="65" width="13" height="1" fill="#ffff00"/>
<rect x="322" y="54" width="1" height="53" fill="#ffff00"/>
<rect x="319.5" y="62.5" width="6" height="6" fill="none" stroke="#ffff00" stroke-width="1"/>
<rect x="328" y="62" width="12" height="1" fill="#ffff00"/>
<rect x="334" y="56" width="1" height="30" fill="#ffff00"/>
<rect x="331.5" y="59.5" width="6" height="6" fill="none" stroke="#ffff00" stroke-width="1"/>
<rect x="339" y="53" width="12" height="1" fill="#ffff00"/>
<rect x="345" y="47" width="1" height="17" fill="#ffff00"/>
<rect x="342.5" y="50.5" width="6" height="6" fill="none" stroke="#ffff00" stroke-width="1"/>
<rect x="350" y="55" width="12" height="1" fill="#ffff00"/>
<rect x="356" y="55" width="1" height="21" fill="#ffff00"/>
<rect x="353" y="76" width="7" height="1" fill="#ffff00"/>
<rect x="354" y="77" width="5" height="1" fill="#ffff00"/>
<rect x="355" y="78" width="3" height="1" fill="#ffff00"/>
<rect x="355" y="79" width="3" height="1" fill="#ffff00"/>
<rect x="356" y="80" width="1" height="1" fill="#ffff00"/>
<rect x="361" y="55" width="11" height="1" fill="#ffff00"/>
<rect x="366" y="55" width="1" height="21" fill="#ffff00"/>
<rect x="363" y="76" width="7" height="1" fill="#ffff00"/>
<rect x="364" y="77" width="5" height="1" fill="#ffff00"/>
<rect x="365" y="78" width="3" height="1" fill="#ffff00"/>
<rect x="365" y="79" width="3" height="1" fill="#ffff00"/>
<rect x="366" y="80" width="1" height="1" fill="#ffff00"/>
<rect x="371" y="57" width="12" height="1" fill="#ffff00"/>
<rect x="377" y="57" width="1" height="21" fill="#ffff00"/>
<rect x="374" y="78" width="7" height="1" fill="#ffff00"/>
<rect x="375" y="79" width="5" height="1" fill="#ffff00"/>
<rect x="376" y="80" width="3" height="1" fill="#ffff00"/>
<rect x="376" y="81" width="3" height="1" fill="#ffff00"/>
<rect x="377" y="82" width="1" height="1" fill="#ffff00"/>
<rect x="382" y="56" width="10" height="1" fill="#ffff00"/>
<rect x="387" y="56" width="1" height="21" fill="#ffff00"/>
<rect x="384" y="77" width="7" height="1" fill="#ffff00"/>
<rect x="385" y="78" width="5" height="1" fill="#ffff00"/>
<rect x="386" y="79" width="3" height="1" fill="#ffff00"/>
<rect x="386" y="80" width="3" height="1" fill="#ffff00"/>
<rect x="387" y="81" width="1" height="1" fill="#ffff00"/>
<rect x="391" y="56" width="10" height="1" fill="#ffff00"/>
<rect x="396" y="56" width="1" height="21" fill="#ffff00"/>
<rect x="393" y="77" width="7" height="1" fill="#ffff00"/>
<rect x="394" y="78" width="5" height="1" fill="#ffff00"/>
<rect x="395" y="79" width="3" height="1" fill="#ffff00"/>
<rect x="395" y="80" width="3" height="1" fill="#ffff00"/>
<rect x="396" y="81" width="1" height="1" fill="#ffff00"/>
<rect x="400" y="59" width="9" height="1" fill="#ffff00"/>
<rect x="404" y="59" width="1" height="21" fill="#ffff00"/>
<rect x="401" y="80" width="7" height="1" fill="#ffff00"/>
<rect x="402" y="81" width="5" height="1" fill="#ffff00"/>
<rect x="403" y="82" width="3" height="1" fill="#ffff00"/>
<rect x="403" y="83" width="3" height="1" fill="#ffff00"/>
<rect x="404" y="84" width="1" height="1" fill="#ffff00"/>
<rect x="408" y="60" width="9" height="1" fill="#ffff00"/>
<rect x="412" y="60" width="1" height="21" fill="#ffff00"/>
<rect x="409" y="81" width="7" height="1" fill="#ffff00"/>
<rect x="410" y="82" width="5" height="1" fill="#ffff00"/>
<rect x="411" y="83" width="3" height="1" fill="#ffff00"/>
<rect x="411" y="84" width="3" height="1" fill="#ffff00"/>
<rect x="412" y="85" width="1" height="1" fill="#ffff00"/>
<rect x="416" y="62" width="9" height="1" fill="#ffff00"/>
<rect x="420" y="62" width="1" height="21" fill="#ffff00"/>
<rect x="417" y="83" width="7" height="1" fill="#ffff00"/>
<rect x="418" y="84" width="5" height="1" fill="#ffff00"/>
<rect x="419" y="85" width="3" height="1" fill="#ffff00"/>
<rect x="419" y="86" width="3" height="1" fill="#ffff00"/>
<rect x="420" y="87" width="1" height="1" fill="#ffff00"/>
<rect x="424" y="72" width="9" height="1" fill="#ffff00"/>
<rect x="428" y="61" width="1" height="65" fill="#ffff00"/>
<rect x="425.5" y="69.5" width="6" height="6" fill="none" stroke="#ffff00" stroke-width="1"/>
<rect x="432" y="63" width="8" height="1" fill="#ffff00"/>
<rect x="436" y="63" width="1" height="21" fill="#ffff00"/>
<rect x="433" y="84" width="7" height="1" fill="#ffff00"/>
<rect x="434" y="85" width="5" height="1" fill="#ffff00"/>
<rect x="435" y="86" width="3" height="1" fill="#ffff00"/>
<rect x="435" y="87" width="3" height="1" fill="#ffff00"/>
<rect x="436" y="88" width="1" height="1" fill="#ffff00"/>
<rect x="439" y="64" width="9" height="1" fill="#ffff00"/>
<rect x="443" y="64" width="1" height="21" fill="#ffff00"/>
<rect x="440" y="85" width="7" height="1" fill="#ffff00"/>
<rect x="441" y="86" width="5" height="1" fill="#ffff00"/>
<rect x="442" y="87" width="3" height="1" fill="#ffff00"/>
<rect x="442" y="88" width="3" height="1" fill="#ffff00"/>
<rect x="443" y="89" width="1" height="1" fill="#ffff00"/>
<rect x="447" y="65" width="9" height="1" fill="#ffff00"/>
<rect x="451" y="65" width="1" height="21" fill="#ffff00"/>
<rect x="448" y="86" width="7" height="1" fill="#ffff00"/>
<rect x="449" y="87" width="5" height="1" fill="#ffff00"/>
<rect x="450" y="88" width="3" height="1" fill="#ffff00"/>
<rect x="450" y="89" width="3" height="1" fill="#ffff00"/>
<rect x="451" y="90" width="1" height="1" fill="#ffff00"/>
<rect x="455" y="64" width="8" height="1" fill="#ffff00"/>
<rect x="458" y="64" width="1" height="21" fill="#ffff00"/>
<rect x="455" y="85" width="7" height="1" fill="#ffff00"/>
<rect x="456" y="86" width="5" height="1" fill="#ffff00"/>
<rect x="457" y="87" width="3" height="1" fill="#ffff00"/>
<rect x="457" y="88" width="3" height="1" fill="#ffff00"/>
<rect x="458" y="89" width="1" height="1" fill="#ffff00"/>
<rect x="462" y="64" width="8" height="1" fill="#ffff00"/>
<rect x="466" y="64" width="1" height="21" fill="#ffff00"/>
<rect x="463" y="85" width="7" height="1" fill="#ffff00"/>
<rect x="464" y="86" width="5" height="1" fill="#ffff00"/>
<rect x="465" y="87" width="3" height="1" fill="#ffff00"/>
<rect x="465" y="88" width="3" height="1" fill="#ffff00"/>
<rect x="466" y="89" width="1" height="1" fill="#ffff00"/>
<rect x="469" y="66" width="9" height="1" fill="#ffff00"/>
<rect x="473" y="66" width="1" height="21" fill="#ffff00"/>
<rect x="470" y="87" width="7" height="1" fill="#ffff00"/>
<rect x="471" y="88" width="5" height="1" fill="#ffff00"/>
<rect x="472" y="89" width="3" height="1" fill="#ffff00"/>
<rect x="472" y="90" width="3" height="1" fill="#ffff00"/>
<rect x="473" y="91" width="1" height="1" fill="#ffff00"/>
<rect x="477" y="67" width="8" height="1" fill="#ffff00"/>
<rect x="481" y="67" width="1" height="21" fill="#ffff00"/>
<rect x="478" y="88" width="7" height="1" fill="#ffff00"/>
<rect x="479" y="89" width="5" height="1" fill="#ffff00"/>
<rect x="480" y="90" width="3" height="1" fill="#ffff00"/>
<rect x="480" y="91" width="3" height="1" fill="#ffff00"/>
<rect x="481" y="92" width="1" height="1" fill="#ffff00"/>
<rect x="484" y="66" width="8" height="1" fill="#ffff00"/>
<rect x="488" y="66" width="1" height="21" fill="#ffff00"/>
<rect x="485" y="87" width="7" height="1" fill="#ffff00"/>
<rect x="486" y="88" width="5" height="1" fill="#ffff00"/>
<rect x="487" y="89" width="3" height="1" fill="#ffff00"/>
<rect x="487" y="90" width="3" height="1" fill="#ffff00"/>
<rect x="488" y="91" width="1" height="1" fill="#ffff00"/>
<rect x="491" y="66" width="8" height="1" fill="#ffff00"/>
<rect x="495" y="66" width="1" height="21" fill="#ffff00"/>
<rect x="492" y="87" width="7" height="1" fill="#ffff00"/>
<rect x="493" y="88" width="5" height="1" fill="#ffff00"/>
<rect x="494" y="89" width="3" height="1" fill="#ffff00"/>
<rect x="494" y="90" width="3" height="1" fill="#ffff00"/>
<rect x="495" y="91" width="1" height="1" fill="#ffff00"/>
<rect x="498" y="66" width="8" height="1" fill="#ffff00"/>
<rect x="502" y="66" width="1" height="21" fill="#ffff00"/>
<rect x="499" y="87" width="7" height="1" fill="#ffff00"/>
<rect x="500" y="88" width="5" height="1" fill="#ffff00"/>
<rect x="501" y="89" width="3" height="1" fill="#ffff00"/>
<rect x="501" y="90" width="3" height="1" fill="#ffff00"/>
<rect x="502" y="91" width="1" height="1" fill="#ffff00"/>
<rect x="505" y="65" width="8" height="1" fill="#ffff00"/>
<rect x="509" y="65" width="1" height="21" fill="#ffff00"/>
<rect x="506" y="86" width="7" height="1" fill="#ffff00"/>
<rect x="507" y="87" width="5" height="1" fill="#ffff00"/>
<rect x="508" y="88" width="3" height="1" fill="#ffff00"/>
<rect x="508" y="89" width="3" height="1" fill="#ffff00"/>
<rect x="509" y="90" width="1" height="1" fill="#ffff00"/>
<rect x="512" y="66" width="8" height="1" fill="#ffff00"/>
<rect x="516" y="66" width="1" height="21" fill="#ffff00"/>
<rect x="513" y="87" width="7" height="1" fill="#ffff00"/>
<rect x="514" y="88" width="5" height="1" fill="#ffff00"/>
<rect x="515" y="89" width="3" height="1" fill="#ffff00"/>
<rect x="515" y="90" width="3" height="1" fill="#ffff00"/>
<rect x="516" y="91" width="1" height="1" fill="#ffff00"/>
<rect x="519" y="70" width="8" height="1" fill="#ffff00"/>
<rect x="522" y="70" width="1" height="21" fill="#ffff00"/>
<rect x="519" y="91" width="7" height="1" fill="#ffff00"/>
<rect x="520" y="92" width="5" height="1" fill="#ffff00"/>
<rect x="521" y="93" width="3" height="1" fill="#ffff00"/>
<rect x="521" y="94" width="3" height="1" fill="#ffff00"/>
<rect x="522" y="95" width="1" height="1" fill="#ffff00"/>
<rect x="526" y="71" width="8" height="1" fill="#ffff00"/>
<rect x="529" y="71" width="1" height="21" fill="#ffff00"/>
<rect x="526" y="92" width="7" height="1" fill="#ffff00"/>
<rect x="527" y="93" width="5" height="1" fill="#ffff00"/>
<rect x="528" y="94" width="3" height="1" fill="#ffff00"/>
<rect x="528" y="95" width="3" height="1" fill="#ffff00"/>
<rect x="529" y="96" width="1" height="1" fill="#ffff00"/>
<rect x="533" y="71" width="7" height="1" fill="#ffff00"/>
<rect x="536" y="71" width="1" height="21" fill="#ffff00"/>
<rect x="533" y="92" width="7" height="1" fill="#ffff00"/>
<rect x="534" y="93" width="5" height="1" fill="#ffff00"/>
<rect x="535" y="94" width="3" height="1" fill="#ffff00"/>
<rect x="535" y="95" width="3" height="1" fill="#ffff00"/>
<rect x="536" y="96" width="1" height="1" fill="#ffff00"/>
<rect x="539" y="73" width="8" height="1" fill="#ffff00"/>
<rect x="543" y="73" width="1" height="21" fill="#ffff00"/>
<rect x="540" y="94" width="7" height="1" fill="#ffff00"/>
<rect x="541" y="95" width="5" height="1" fill="#ffff00"/>
<rect x="542" y="96" width="3" height="1" fill="#ffff00"/>
<rect x="542" y="97" width="3" height="1" fill="#ffff00"/>
<rect x="543" y="98" width="1" height="1" fill="#ffff00"/>
<rect x="546" y="73" width="8" height="1" fill="#ffff00"/>
<rect x="549" y="73" width="1" height="21" fill="#ffff00"/>
<rect x="546" y="94" width="7" height="1" fill="#ffff00"/>
<rect x="547" y="95" width="5" height="1" fill="#ffff00"/>
<rect x="548" y="96" width="3" height="1" fill="#ffff00"/>
<rect x="548" y="97" width="3" height="1" fill="#ffff00"/>
<rect x="549" y="98" width="1" height="1" fill="#ffff00"/>
<rect x="553" y="82" width="7" height="1" fill="#ffff00"/>
<rect x="556" y="72" width="1" height="44" fill="#ffff00"/>
<rect x="553.5" y="79.5" width="6" height="6" fill="none" stroke="#ffff00" stroke-width="1"/>
<rect x="559" y="73" width="8" height="1" fill="#ffff00"/>
<rect x="563" y="73" width="1" height="21" fill="#ffff00"/>
<rect x="560" y="94" width="7" height="1" fill="#ffff00"/>
<rect x="561" y="95" width="5" height="1" fill="#ffff00"/>
<rect x="562" y="96" width="3" height="1" fill="#ffff00"/>
<rect x="562" y="97" width="3" height="1" fill="#ffff00"/>
<rect x="563" y="98" width="1" height="1" fill="#ffff00"/>
<rect x="566" y="74" width="7" height="1" fill="#ffff00"/>
<rect x="569" y="74" width="1" height="21" fill="#ffff00"/>
<rect x="566" y="95" width="7" height="1" fill="#ffff00"/>
<rect x="567" y="96" width="5" height="1" fill="#ffff00"/>
<rect x="568" y="97" width="3" height="1" fill="#ffff00"/>
<rect x="568" y="98" width="3" height="1" fill="#ffff00"/>
<rect x="569" y="99" width="1" height="1" fill="#ffff00"/>
<rect x="572" y="76" width="8" height="1" fill="#ffff00"/>
<rect x="576" y="76" width="1" height="21" fill="#ffff00"/>
<rect x="573" y="97" width="7" height="1" fill="#ffff00"/>
<rect x="574" y="98" width="5" height="1" fill="#ffff00"/>
<rect x="575" y="99" width="3" height="1" fill="#ffff00"/>
<rect x="575" y="100" width="3" height="1" fill="#ffff00"/>
<rect x="576" y="101" width="1" height="1" fill="#ffff00"/>
<rect x="103" y="63" width="20" height="1" fill="#00ffff"/>
<rect x="122" y="56" width="18" height="1" fill="#00ffff"/>
<rect x="122" y="56" width="1" height="8" fill="#00ffff"/>
<rect x="139" y="51" width="17" height="1" fill="#00ffff"/>
<rect x="139" y="51" width="1" height="6" fill="#00ffff"/>
<rect x="155" y="47" width="18" height="1" fill="#00ffff"/>
<rect x="155" y="47" width="1" height="5" fill="#00ffff"/>
<rect x="172" y="44" width="17" height="1" fill="#00ffff"/>
<rect x="172" y="44" width="1" height="4" fill="#00ffff"/>
<rect x="188" y="43" width="17" height="1" fill="#00ffff"/>
<rect x="188" y="43" width="1" height="2" fill="#00ffff"/>
<rect x="204" y="42" width="16" height="1" fill="#00ffff"/>
<rect x="204" y="42" width="1" height="2" fill="#00ffff"/>
<rect x="219" y="42" width="13" height="1" fill="#00ffff"/>
<rect x="219" y="42" width="1" height="1" fill="#00ffff"/>
<rect x="231" y="44" width="14" height="1" fill="#00ffff"/>
<rect x="231" y="42" width="1" height="3" fill="#00ffff"/>
<rect x="244" y="46" width="13" height="1" fill="#00ffff"/>
<rect x="244" y="44" width="1" height="3" fill="#00ffff"/>
<rect x="256" y="49" width="14" height="1" fill="#00ffff"/>
<rect x="256" y="46" width="1" height="4" fill="#00ffff"/>
<rect x="269" y="51" width="14" height="1" fill="#00ffff"/>
<rect x="269" y="49" width="1" height="3" fill="#00ffff"/>
<rect x="282" y="55" width="13" height="1" fill="#00ffff"/>
<rect x="282" y="51" width="1" height="5" fill="#00ffff"/>
<rect x="294" y="59" width="12" height="1" fill="#00ffff"/>
<rect x="294" y="55" width="1" height="5" fill="#00ffff"/>
<rect x="305" y="62" width="12" height="1" fill="#00ffff"/>
<rect x="305" y="59" width="1" height="4" fill="#00ffff"/>
<rect x="316" y="67" width="13" height="1" fill="#00ffff"/>
<rect x="316" y="62" width="1" height="6" fill="#00ffff"/>
<rect x="328" y="72" width="12" height="1" fill="#00ffff"/>
<rect x="328" y="67" width="1" height="6" fill="#00ffff"/>
<rect x="339" y="78" width="12" height="1" fill="#00ffff"/>
<rect x="339" y="72" width="1" height="7" fill="#00ffff"/>
<rect x="350" y="84" width="12" height="1" fill="#00ffff"/>
<rect x="350" y="78" width="1" height="7" fill="#00ffff"/>
<rect x="361" y="91" width="11" height="1" fill="#00ffff"/>
<rect x="361" y="84" width="1" height="8" fill="#00ffff"/>
<rect x="371" y="99" width="12" height="1" fill="#00ffff"/>
<rect x="371" y="91" width="1" height="9" fill="#00ffff"/>
<rect x="382" y="106" width="10" height="1" fill="#00ffff"/>
<rect x="382" y="99" width="1" height="8" fill="#00ffff"/>
<rect x="391" y="113" width="10" height="1" fill="#00ffff"/>
<rect x="391" y="106" width="1" height="8" fill="#00ffff"/>
<rect x="400" y="120" width="9" height="1" fill="#00ffff"/>
<rect x="400" y="113" width="1" height="8" fill="#00ffff"/>
<rect x="408" y="126" width="9" height="1" fill="#00ffff"/>
<rect x="408" y="120" width="1" height="7" fill="#00ffff"/>
<rect x="416" y="133" width="9" height="1" fill="#00ffff"/>
<rect x="416" y="126" width="1" height="8" fill="#00ffff"/>
<rect x="424" y="140" width="9" height="1" fill="#00ffff"/>
<rect x="424" y="133" width="1" height="8" fill="#00ffff"/>
<rect x="432" y="147" width="8" height="1" fill="#00ffff"/>
<rect x="432" y="140" width="1" height="8" fill="#00ffff"/>
<rect x="439" y="155" width="9" height="1" fill="#00ffff"/>
<rect x="439" y="147" width="1" height="9" fill="#00ffff"/>
<rect x="447" y="162" width="9" height="1" fill="#00ffff"/>
<rect x="447" y="155" width="1" height="8" fill="#00ffff"/>
<rect x="455" y="171" width="8" height="1" fill="#00ffff"/>
<rect x="455" y="162" width="1" height="10" fill="#00ffff"/>
<rect x="462" y="179" width="8" height="1" fill="#00ffff"/>
<rect x="462" y="171" width="1" height="9" fill="#00ffff"/>
<rect x="469" y="188" width="9" height="1" fill="#00ffff"/>
<rect x="469" y="179" width="1" height="10" fill="#00ffff"/>
<rect x="477" y="197" width="8" height="1" fill="#00ffff"/>
<rect x="477" y="188" width="1" height="10" fill="#00ffff"/>
<rect x="484" y="207" width="8" height="1" fill="#00ffff"/>
<rect x="484" y="197" width="1" height="11" fill="#00ffff"/>
<rect x="491" y="216" width="8" height="1" fill="#00ffff"/>
<rect x="491" y="207" width="1" height="10" fill="#00ffff"/>
<rect x="498" y="226" width="8" height="1" fill="#00ffff"/>
<rect x="498" y="216" width="1" height="11" fill="#00ffff"/>
<rect x="505" y="236" width="8" height="1" fill="#00ffff"/>
<rect x="505" y="226" width="1" height="11" fill="#00ffff"/>
<rect x="512" y="247" width="8" height="1" fill="#00ffff"/>
<rect x="512" y="236" width="1" height="12" fill="#00ffff"/>
<rect x="519" y="258" width="8" height="1" fill="#00ffff"/>
<rect x="519" y="247" width="1" height="12" fill="#00ffff"/>
<rect x="526" y="269" width="8" height="1" fill="#00ffff"/>
<rect x="526" y="258" width="1" height="12" fill="#00ffff"/>
<rect x="533" y="280" width="7" height="1" fill="#00ffff"/>
<rect x="533" y="269" width="1" height="12" fill="#00ffff"/>
<rect x="539" y="292" width="8" height="1" fill="#00ffff"/>
<rect x="539" y="280" width="1" height="13" fill="#00ffff"/>
<rect x="546" y="305" width="8" height="1" fill="#00ffff"/>
<rect x="546" y="292" width="1" height="14" fill="#00ffff"/>
<rect x="553" y="318" width="7" height="1" fill="#00ffff"/>
<rect x="553" y="305" width="1" height="14" fill="#00ffff"/>
<rect x="559" y="332" width="8" height="1" fill="#00ffff"/>
<rect x="559" y="318" width="1" height="15" fill="#00ffff"/>
<rect x="566" y="345" width="7" height="1" fill="#00ffff"/>
<rect x="566" y="332" width="1" height="14" fill="#00ffff"/>
<rect x="572" y="359" width="8" height="1" fill="#00ffff"/>
<rect x="572" y="345" width="1" height="15" fill="#00ffff"/>
<rect x="83" y="416" width="21" height="1" fill="#0000ff"/>
<rect x="93" y="410" width="1" height="13" fill="#0000ff"/>
<rect x="103" y="434" width="20" height="1" fill="#0000ff"/>
<rect x="113" y="425" width="1" height="19" fill="#0000ff"/>
<rect x="122" y="424" width="18" height="1" fill="#0000ff"/>
<rect x="130" y="415" width="1" height="19" fill="#0000ff"/>
<rect x="139" y="442" width="17" height="1" fill="#0000ff"/>
<rect x="147" y="432" width="1" height="21" fill="#0000ff"/>
<rect x="155" y="398" width="18" height="1" fill="#0000ff"/>
<rect x="164" y="389" width="1" height="19" fill="#0000ff"/>
<rect x="172" y="427" width="17" height="1" fill="#0000ff"/>
<rect x="180" y="416" width="1" height="23" fill="#0000ff"/>
<rect x="188" y="424" width="17" height="1" fill="#0000ff"/>
<rect x="196" y="413" width="1" height="23" fill="#0000ff"/>
<rect x="204" y="410" width="16" height="1" fill="#0000ff"/>
<rect x="211" y="399" width="1" height="23" fill="#0000ff"/>
<rect x="219" y="441" width="13" height="1" fill="#0000ff"/>
<rect x="225" y="430" width="1" height="23" fill="#0000ff"/>
<rect x="231" y="432" width="14" height="1" fill="#0000ff"/>
<rect x="238" y="421" width="1" height="23" fill="#0000ff"/>
<rect x="244" y="444" width="13" height="1" fill="#0000ff"/>
<rect x="250" y="433" width="1" height="23" fill="#0000ff"/>
<rect x="256" y="417" width="14" height="1" fill="#0000ff"/>
<rect x="263" y="408" width="1" height="19" fill="#0000ff"/>
<rect x="269" y="416" width="14" height="1" fill="#0000ff"/>
<rect x="276" y="407" width="1" height="19" fill="#0000ff"/>
<rect x="282" y="423" width="13" height="1" fill="#0000ff"/>
<rect x="288" y="416" width="1" height="15" fill="#0000ff"/>
<rect x="294" y="420" width="12" height="1" fill="#0000ff"/>
<rect x="300" y="413" width="1" height="15" fill="#0000ff"/>
<rect x="305" y="424" width="12" height="1" fill="#0000ff"/>
<rect x="311" y="416" width="1" height="17" fill="#0000ff"/>
<rect x="316" y="430" width="13" height="1" fill="#0000ff"/>
<rect x="322" y="424" width="1" height="13" fill="#0000ff"/>
<rect x="328" y="418" width="12" height="1" fill="#0000ff"/>
<rect x="334" y="412" width="1" height="13" fill="#0000ff"/>
<rect x="339" y="424" width="12" height="1" fill="#0000ff"/>
<rect x="345" y="418" width="1" height="13" fill="#0000ff"/>
<rect x="350" y="418" width="12" height="1" fill="#0000ff"/>
<rect x="356" y="412" width="1" height="13" fill="#0000ff"/>
<rect x="361" y="421" width="11" height="1" fill="#0000ff"/>
<rect x="366" y="416" width="1" height="11" fill="#0000ff"/>
<rect x="371" y="413" width="12" height="1" fill="#0000ff"/>
<rect x="377" y="408" width="1" height="11" fill="#0000ff"/>
<rect x="382" y="421" width="10" height="1" fill="#0000ff"/>
<rect x="387" y="416" width="1" height="11" fill="#0000ff"/>
<rect x="391" y="415" width="10" height="1" fill="#0000ff"/>
<rect x="396" y="410" width="1" height="11" fill="#0000ff"/>
<rect x="400" y="421" width="9" height="1" fill="#0000ff"/>
<rect x="404" y="416" width="1" height="11" fill="#0000ff"/>
<rect x="408" y="416" width="9" height="1" fill="#0000ff"/>
<rect x="412" y="412" width="1" height="9" fill="#0000ff"/>
<rect x="416" y="418" width="9" height="1" fill="#0000ff"/>
<rect x="420" y="414" width="1" height="9" fill="#0000ff"/>
<rect x="424" y="419" width="9" height="1" fill="#0000ff"/>
<rect x="428" y="415" width="1" height="9" fill="#0000ff"/>
<rect x="432" y="419" width="8" height="1" fill="#0000ff"/>
<rect x="436" y="415" width="1" height="9" fill="#0000ff"/>
<rect x="439" y="417" width="9" height="1" fill="#0000ff"/>
<rect x="443" y="413" width="1" height="9" fill="#0000ff"/>
<rect x="447" y="417" width="9" height="1" fill="#0000ff"/>
<rect x="451" y="413" width="1" height="9" fill="#0000ff"/>
<rect x="455" y="419" width="8" height="1" fill="#0000ff"/>
<rect x="458" y="416" width="1" height="7" fill="#0000ff"/>
<rect x="462" y="422" width="8" height="1" fill="#0000ff"/>
<rect x="466" y="419" width="1" height="7" fill="#0000ff"/>
<rect x="469" y="420" width="9" height="1" fill="#0000ff"/>
<rect x="473" y="417" width="1" height="7" fill="#0000ff"/>
<rect x="477" y="420" width="8" height="1" fill="#0000ff"/>
<rect x="481" y="417" width="1" height="7" fill="#0000ff"/>
<rect x="484" y="420" width="8" height="1" fill="#0000ff"/>
<rect x="488" y="417" width="1" height="7" fill="#0000ff"/>
<rect x="491" y="417" width="8" height="1" fill="#0000ff"/>
<rect x="495" y="414" width="1" height="7" fill="#0000ff"/>
<rect x="498" y="419" width="8" height="1" fill="#0000ff"/>
<rect x="502" y="416" width="1" height="7" fill="#0000ff"/>
<rect x="505" y="419" width="8" height="1" fill="#0000ff"/>
<rect x="509" y="416" width="1" height="7" fill="#0000ff"/>
<rect x="512" y="419" width="8" height="1" fill="#0000ff"/>
<rect x="516" y="416" width="1" height="7" fill="#0000ff"/>
<rect x="519" y="420" width="8" height="1" fill="#0000ff"/>
<rect x="522" y="417" width="1" height="7" fill="#0000ff"/>
<rect x="526" y="420" width="8" height="1" fill="#0000ff"/>
<rect x="529" y="417" width="1" height="7" fill="#0000ff"/>
<rect x="533" y="420" width="7" height="1" fill="#0000ff"/>
<rect x="536" y="417" width="1" height="7" fill="#0000ff"/>
<rect x="539" y="419" width="8" height="1" fill="#0000ff"/>
<rect x="543" y="417" width="1" height="5" fill="#0000ff"/>
<rect x="546" y="417" width="8" height="1" fill="#0000ff"/>
<rect x="549" y="415" width="1" height="5" fill="#0000ff"/>
<rect x="553" y="420" width="7" height="1" fill="#0000ff"/>
<rect x="556" y="418" width="1" height="5" fill="#0000ff"/>
<rect x="559" y="421" width="8" height="1" fill="#0000ff"/>
<rect x="563" y="419" width="1" height="5" fill="#0000ff"/>
<rect x="566" y="420" width="7" height="1" fill="#0000ff"/>
<rect x="569" y="418" width="1" height="5" fill="#0000ff"/>
<rect x="83" y="422" width="21" height="1" fill="#00ff00"/>
<rect x="93" y="417" width="1" height="11" fill="#00ff00"/>
<rect x="103" y="422" width="20" height="1" fill="#00ff00"/>
<rect x="113" y="417" width="1" height="11" fill="#00ff00"/>
<rect x="122" y="424" width="18" height="1" fill="#00ff00"/>
<rect x="130" y="419" width="1" height="11" fill="#00ff00"/>
<rect x="139" y="427" width="17" height="1" fill="#00ff00"/>
<rect x="147" y="422" width="1" height="11" fill="#00ff00"/>
<rect x="155" y="417" width="18" height="1" fill="#00ff00"/>
<rect x="164" y="412" width="1" height="11" fill="#00ff00"/>
<rect x="172" y="429" width="17" height="1" fill="#00ff00"/>
<rect x="180" y="423" width="1" height="13" fill="#00ff00"/>
<rect x="188" y="416" width="17" height="1" fill="#00ff00"/>
<rect x="196" y="409" width="1" height="15" fill="#00ff00"/>
<rect x="204" y="418" width="16" height="1" fill="#00ff00"/>
<rect x="211" y="411" width="1" height="15" fill="#00ff00"/>
<rect x="219" y="433" width="13" height="1" fill="#00ff00"/>
<rect x="225" y="426" width="1" height="15" fill="#00ff00"/>
<rect x="231" y="419" width="14" height="1" fill="#00ff00"/>
<rect x="238" y="412" width="1" height="15" fill="#00ff00"/>
<rect x="244" y="413" width="13" height="1" fill="#00ff00"/>
<rect x="250" y="406" width="1" height="15" fill="#00ff00"/>
<rect x="256" y="418" width="14" height="1" fill="#00ff00"/>
<rect x="263" y="411" width="1" height="15" fill="#00ff00"/>
<rect x="269" y="424" width="14" height="1" fill="#00ff00"/>
<rect x="276" y="417" width="1" height="15" fill="#00ff00"/>
<rect x="282" y="417" width="13" height="1" fill="#00ff00"/>
<rect x="288" y="411" width="1" height="13" fill="#00ff00"/>
<rect x="294" y="431" width="12" height="1" fill="#00ff00"/>
<rect x="300" y="425" width="1" height="13" fill="#00ff00"/>
<rect x="305" y="413" width="12" height="1" fill="#00ff00"/>
<rect x="311" y="407" width="1" height="13" fill="#00ff00"/>
<rect x="316" y="424" width="13" height="1" fill="#00ff00"/>
<rect x="322" y="419" width="1" height="11" fill="#00ff00"/>
<rect x="328" y="416" width="12" height="1" fill="#00ff00"/>
<rect x="334" y="411" width="1" height="11" fill="#00ff00"/>
<rect x="339" y="420" width="12" height="1" fill="#00ff00"/>
<rect x="345" y="415" width="1" height="11" fill="#00ff00"/>
<rect x="350" y="432" width="12" height="1" fill="#00ff00"/>
<rect x="356" y="427" width="1" height="11" fill="#00ff00"/>
<rect x="361" y="425" width="11" height="1" fill="#00ff00"/>
<rect x="366" y="421" width="1" height="9" fill="#00ff00"/>
<rect x="371" y="418" width="12" height="1" fill="#00ff00"/>
<rect x="377" y="414" width="1" height="9" fill="#00ff00"/>
<rect x="382" y="413" width="10" height="1" fill="#00ff00"/>
<rect x="387" y="409" width="1" height="9" fill="#00ff00"/>
<rect x="391" y="419" width="10" height="1" fill="#00ff00"/>
<rect x="396" y="415" width="1" height="9" fill="#00ff00"/>
<rect x="400" y="411" width="9" height="1" fill="#00ff00"/>
<rect x="404" y="407" width="1" height="9" fill="#00ff00"/>
<rect x="408" y="420" width="9" height="1" fill="#00ff00"/>
<rect x="412" y="416" width="1" height="9" fill="#00ff00"/>
<rect x="416" y="421" width="9" height="1" fill="#00ff00"/>
<rect x="420" y="417" width="1" height="9" fill="#00ff00"/>
<rect x="424" y="422" width="9" height="1" fill="#00ff00"/>
<rect x="428" y="418" width="1" height="9" fill="#00ff00"/>
<rect x="432" y="422" width="8" height="1" fill="#00ff00"/>
<rect x="436" y="418" width="1" height="9" fill="#00ff00"/>
<rect x="439" y="418" width="9" height="1" fill="#00ff00"/>
<rect x="443" y="414" width="1" height="9" fill="#00ff00"/>
<rect x="447" y="423" width="9" height="1" fill="#00ff00"/>
<rect x="451" y="419" width="1" height="9" fill="#00ff00"/>
<rect x="455" y="424" width="8" height="1" fill="#00ff00"/>
<rect x="458" y="421" width="1" height="7" fill="#00ff00"/>
<rect x="462" y="416" width="8" height="1" fill="#00ff00"/>
<rect x="466" y="413" width="1" height="7" fill="#00ff00"/>
<rect x="469" y="418" width="9" height="1" fill="#00ff00"/>
<rect x="473" y="415" width="1" height="7" fill="#00ff00"/>
<rect x="477" y="421" width="8" height="1" fill="#00ff00"/>
<rect x="481" y="418" width="1" height="7" fill="#00ff00"/>
<rect x="484" y="421" width="8" height="1" fill="#00ff00"/>
<rect x="488" y="418" width="1" height="7" fill="#00ff00"/>
<rect x="491" y="421" width="8" height="1" fill="#00ff00"/>
<rect x="495" y="418" width="1" height="7" fill="#00ff00"/>
<rect x="498" y="420" width="8" height="1" fill="#00ff00"/>
<rect x="502" y="417" width="1" height="7" fill="#00ff00"/>
<rect x="505" y="417" width="8" height="1" fill="#00ff00"/>
<rect x="509" y="414" width="1" height="7" fill="#00ff00"/>
<rect x="512" y="420" width="8" height="1" fill="#00ff00"/>
<rect x="516" y="417" width="1" height="7" fill="#00ff00"/>
<rect x="519" y="420" width="8" height="1" fill="#00ff00"/>
<rect x="522" y="417" width="1" height="7" fill="#00ff00"/>
<rect x="526" y="422" width="8" height="1" fill="#00ff00"/>
<rect x="529" y="419" width="1" height="7" fill="#00ff00"/>
<rect x="533" y="419" width="7" height="1" fill="#00ff00"/>
<rect x="536" y="416" width="1" height="7" fill="#00ff00"/>
<rect x="539" y="421" width="8" height="1" fill="#00ff00"/>
<rect x="543" y="419" width="1" height="5" fill="#00ff00"/>
<rect x="546" y="420" width="8" height="1" fill="#00ff00"/>
<rect x="549" y="418" width="1" height="5" fill="#00ff00"/>
<rect x="553" y="421" width="7" height="1" fill="#00ff00"/>
<rect x="556" y="419" width="1" height="5" fill="#00ff00"/>
<rect x="559" y="420" width="8" height="1" fill="#00ff00"/>
<rect x="563" y="418" width="1" height="5" fill="#00ff00"/>
<rect x="566" y="422" width="7" height="1" fill="#00ff00"/>
<rect x="569" y="420" width="1" height="5" fill="#00ff00"/>
<rect x="103" y="419" width="20" height="1" fill="#ffff00"/>
<rect x="113" y="414" width="1" height="11" fill="#ffff00"/>
<rect x="122" y="416" width="18" height="1" fill="#ffff00"/>
<rect x="130" y="411" width="1" height="11" fill="#ffff00"/>
<rect x="139" y="420" width="17" height="1" fill="#ffff00"/>
<rect x="147" y="415" width="1" height="11" fill="#ffff00"/>
<rect x="155" y="415" width="18" height="1" fill="#ffff00"/>
<rect x="164" y="410" width="1" height="11" fill="#ffff00"/>
<rect x="172" y="423" width="17" height="1" fill="#ffff00"/>
<rect x="180" y="417" width="1" height="13" fill="#ffff00"/>
<rect x="188" y="420" width="17" height="1" fill="#ffff00"/>
<rect x="196" y="414" width="1" height="13" fill="#ffff00"/>
<rect x="204" y="409" width="16" height="1" fill="#ffff00"/>
<rect x="211" y="403" width="1" height="13" fill="#ffff00"/>
<rect x="219" y="419" width="13" height="1" fill="#ffff00"/>
<rect x="225" y="413" width="1" height="13" fill="#ffff00"/>
<rect x="231" y="414" width="14" height="1" fill="#ffff00"/>
<rect x="238" y="408" width="1" height="13" fill="#ffff00"/>
<rect x="244" y="426" width="13" height="1" fill="#ffff00"/>
<rect x="250" y="420" width="1" height="13" fill="#ffff00"/>
<rect x="256" y="426" width="14" height="1" fill="#ffff00"/>
<rect x="263" y="420" width="1" height="13" fill="#ffff00"/>
<rect x="269" y="416" width="14" height="1" fill="#ffff00"/>
<rect x="276" y="411" width="1" height="11" fill="#ffff00"/>
<rect x="282" y="420" width="13" height="1" fill="#ffff00"/>
<rect x="288" y="415" width="1" height="11" fill="#ffff00"/>
<rect x="294" y="419" width="12" height="1" fill="#ffff00"/>
<rect x="300" y="414" width="1" height="11" fill="#ffff00"/>
<rect x="305" y="410" width="12" height="1" fill="#ffff00"/>
<rect x="311" y="405" width="1" height="11" fill="#ffff00"/>
<rect x="316" y="419" width="13" height="1" fill="#ffff00"/>
<rect x="322" y="414" width="1" height="11" fill="#ffff00"/>
<rect x="328" y="417" width="12" height="1" fill="#ffff00"/>
<rect x="334" y="412" width="1" height="11" fill="#ffff00"/>
<rect x="339" y="412" width="12" height="1" fill="#ffff00"/>
<rect x="345" y="408" width="1" height="9" fill="#ffff00"/>
<rect x="350" y="419" width="12" height="1" fill="#ffff00"/>
<rect x="356" y="415" width="1" height="9" fill="#ffff00"/>
<rect x="361" y="425" width="11" height="1" fill="#ffff00"/>
<rect x="366" y="421" width="1" height="9" fill="#ffff00"/>
<rect x="371" y="424" width="12" height="1" fill="#ffff00"/>
<rect x="377" y="420" width="1" height="9" fill="#ffff00"/>
<rect x="382" y="422" width="10" height="1" fill="#ffff00"/>
<rect x="387" y="418" width="1" height="9" fill="#ffff00"/>
<rect x="391" y="419" width="10" height="1" fill="#ffff00"/>
<rect x="396" y="415" width="1" height="9" fill="#ffff00"/>
<rect x="400" y="424" width="9" height="1" fill="#ffff00"/>
<rect x="404" y="420" width="1" height="9" fill="#ffff00"/>
<rect x="408" y="423" width="9" height="1" fill="#ffff00"/>
<rect x="412" y="420" width="1" height="7" fill="#ffff00"/>
<rect x="416" y="421" width="9" height="1" fill="#ffff00"/>
<rect x="420" y="418" width="1" height="7" fill="#ffff00"/>
<rect x="424" y="417" width="9" height="1" fill="#ffff00"/>
<rect x="428" y="414" width="1" height="7" fill="#ffff00"/>
<rect x="432" y="420" width="8" height="1" fill="#ffff00"/>
<rect x="436" y="417" width="1" height="7" fill="#ffff00"/>
<rect x="439" y="420" width="9" height="1" fill="#ffff00"/>
<rect x="443" y="417" width="1" height="7" fill="#ffff00"/>
<rect x="447" y="420" width="9" height="1" fill="#ffff00"/>
<rect x="451" y="417" width="1" height="7" fill="#ffff00"/>
<rect x="455" y="423" width="8" height="1" fill="#ffff00"/>
<rect x="458" y="420" width="1" height="7" fill="#ffff00"/>
<rect x="462" y="419" width="8" height="1" fill="#ffff00"/>
<rect x="466" y="416" width="1" height="7" fill="#ffff00"/>
<rect x="469" y="420" width="9" height="1" fill="#ffff00"/>
<rect x="473" y="417" width="1" height="7" fill="#ffff00"/>
<rect x="477" y="421" width="8" height="1" fill="#ffff00"/>
<rect x="481" y="418" width="1" height="7" fill="#ffff00"/>
<rect x="484" y="422" width="8" height="1" fill="#ffff00"/>
<rect x="488" y="419" width="1" height="7" fill="#ffff00"/>
<rect x="491" y="423" width="8" height="1" fill="#ffff00"/>
<rect x="495" y="420" width="1" height="7" fill="#ffff00"/>
<rect x="498" y="421" width="8" height="1" fill="#ffff00"/>
<rect x="502" y="418" width="1" height="7" fill="#ffff00"/>
<rect x="505" y="420" width="8" height="1" fill="#ffff00"/>
<rect x="509" y="417" width="1" height="7" fill="#ffff00"/>
<rect x="512" y="418" width="8" height="1" fill="#ffff00"/>
<rect x="516" y="415" width="1" height="7" fill="#ffff00"/>
<rect x="519" y="422" width="8" height="1" fill="#ffff00"/>
<rect x="522" y="419" width="1" height="7" fill="#ffff00"/>
<rect x="526" y="421" width="8" height="1" fill="#ffff00"/>
<rect x="529" y="418" width="1" height="7" fill="#ffff00"/>
<rect x="533" y="422" width="7" height="1" fill="#ffff00"/>
<rect x="536" y="419" width="1" height="7" fill="#ffff00"/>
<rect x="539" y="423" width="8" height="1" fill="#ffff00"/>
<rect x="543" y="421" width="1" height="5" fill="#ffff00"/>
<rect x="546" y="419" width="8" height="1" fill="#ffff00"/>
<rect x="549" y="417" width="1" height="5" fill="#ffff00"/>
<rect x="553" y="418" width="7" height="1" fill="#ffff00"/>
<rect x="556" y="416" width="1" height="5" fill="#ffff00"/>
<rect x="559" y="420" width="8" height="1" fill="#ffff00"/>
<rect x="563" y="418" width="1" height="5" fill="#ffff00"/>
<rect x="566" y="420" width="7" height="1" fill="#ffff00"/>
<rect x="569" y="418" width="1" height="5" fill="#ffff00"/>
<rect x="572" y="420" width="8" height="1" fill="#ffff00"/>
<rect x="576" y="419" width="1" height="3" fill="#ffff00"/>
<rect x="72" y="25" width="511" height="1" fill="#ffffff"/>
<rect x="72" y="367" width="511" height="1" fill="#ffffff"/>
<rect x="72" y="472" width="511" height="1" fill="#ffffff"/>
<rect x="72" y="25" width="1" height="448" fill="#ffffff"/>
<rect x="582" y="25" width="1" height="448" fill="#ffffff"/>
<rect x="83" y="25" width="1" height="5" fill="#ffffff"/>
<rect x="83" y="364" width="1" height="8" fill="#ffffff"/>
<rect x="83" y="468" width="1" height="4" fill="#ffffff"/>
<rect x="107" y="25" width="1" height="5" fill="#ffffff"/>
<rect x="107" y="364" width="1" height="8" fill="#ffffff"/>
<rect x="107" y="468" width="1" height="4" fill="#ffffff"/>
<rect x="129" y="25" width="1" height="5" fill="#ffffff"/>
<rect x="129" y="364" width="1" height="8" fill="#ffffff"/>
<rect x="129" y="468" width="1" height="4" fill="#ffffff"/>
<rect x="149" y="25" width="1" height="8" fill="#ffffff"/>
<rect x="149" y="360" width="1" height="17" fill="#ffffff"/>
<rect x="149" y="464" width="1" height="8" fill="#ffffff"/>
<rect x="277" y="25" width="1" height="5" fill="#ffffff"/>
<rect x="277" y="364" width="1" height="8" fill="#ffffff"/>
<rect x="277" y="468" width="1" height="4" fill="#ffffff"/>
<rect x="352" y="25" width="1" height="5" fill="#ffffff"/>
<rect x="352" y="364" width="1" height="8" fill="#ffffff"/>
<rect x="352" y="468" width="1" height="4" fill="#ffffff"/>
<rect x="405" y="25" width="1" height="5" fill="#ffffff"/>
<rect x="405" y="364" width="1" height="8" fill="#ffffff"/>
<rect x="405" y="468" width="1" height="4" fill="#ffffff"/>
<rect x="446" y="25" width="1" height="5" fill="#ffffff"/>
<rect x="446" y="364" width="1" height="8" fill="#ffffff"/>
<rect x="446" y="468" width="1" height="4" fill="#ffffff"/>
<rect x="480" y="25" width="1" height="5" fill="#ffffff"/>
<rect x="480" y="364" width="1" height="8" fill="#ffffff"/>
<rect x="480" y="468" width="1" height="4" fill="#ffffff"/>
<rect x="508" y="25" width="1" height="5" fill="#ffffff"/>
<rect x="508" y="364" width="1" height="8" fill="#ffffff"/>
<rect x="508" y="468" width="1" height="4" fill="#ffffff"/>
<rect x="533" y="25" width="1" height="5" fill="#ffffff"/>
<rect x="533" y="364" width="1" height="8" fill="#ffffff"/>
<rect x="533" y="468" width="1" height="4" fill="#ffffff"/>
<rect x="555" y="25" width="1" height="5" fill="#ffffff"/>
<rect x="555" y="364" width="1" height="8" fill="#ffffff"/>
<rect x="555" y="468" width="1" height="4" fill="#ffffff"/>
<rect x="574" y="25" width="1" height="8" fill="#ffffff"/>
<rect x="574" y="360" width="1" height="17" fill="#ffffff"/>
<rect x="574" y="464" width="1" height="8" fill="#ffffff"/>
<rect x="72" y="356" width="11" height="1" fill="#ffffff"/>
<rect x="572" y="356" width="10" height="1" fill="#ffffff"/>
<rect x="72" y="319" width="6" height="1" fill="#ffffff"/>
<rect x="577" y="319" width="5" height="1" fill="#ffffff"/>
<rect x="72" y="283" width="11" height="1" fill="#ffffff"/>
<rect x="572" y="283" width="10" height="1" fill="#ffffff"/>
<rect x="72" y="246" width="6" height="1" fill="#ffffff"/>
<rect x="577" y="246" width="5" height="1" fill="#ffffff"/>
<rect x="72" y="209" width="11" height="1" fill="#ffffff"/>
<rect x="572" y="209" width="10" height="1" fill="#ffffff"/>
<rect x="72" y="172" width="6" height="1" fill="#ffffff"/>
<rect x="577" y="172" width="5" height="1" fill="#ffffff"/>
<rect x="72" y="136" width="11" height="1" fill="#ffffff"/>
<rect x="572" y="136" width="10" height="1" fill="#ffffff"/>
<rect x="72" y="99" width="6" height="1" fill="#ffffff"/>
<rect x="577" y="99" width="5" height="1" fill="#ffffff"/>
<rect x="72" y="62" width="11" height="1" fill="#ffffff"/>
<rect x="572" y="62" width="10" height="1" fill="#ffffff"/>
<rect x="72" y="380" width="6" height="1" fill="#ffffff"/>
<rect x="577" y="380" width="5" height="1" fill="#ffffff"/>
<rect x="72" y="393" width="11" height="1" fill="#ffffff"/>
<rect x="572" y="393" width="10" height="1" fill="#ffffff"/>
<rect x="72" y="407" width="6" height="1" fill="#ffffff"/>
<rect x="577" y="407" width="5" height="1" fill="#ffffff"/>
<rect x="72" y="420" width="11" height="1" fill="#ffffff"/>
<rect x="572" y="420" width="10" height="1" fill="#ffffff"/>
<rect x="72" y="433" width="6" height="1" fill="#ffffff"/>
<rect x="577" y="433" width="5" height="1" fill="#ffffff"/>
<rect x="72" y="446" width="11" height="1" fill="#ffffff"/>
<rect x="572" y="446" width="10" height="1" fill="#ffffff"/>
<rect x="72" y="459" width="6" height="1" fill="#ffffff"/>
<rect x="577" y="459" width="5" height="1" fill="#ffffff"/>
<rect x="72" y="420" width="1" height="1" fill="#00ffff"/>
<rect x="78" y="420" width="1" height="1" fill="#00ffff"/>
<rect x="84" y="420" width="1" height="1" fill="#00ffff"/>
<rect x="90" y="420" width="1" height="1" fill="#00ffff"/>
<rect x="96" y="420" width="1" height="1" fill="#00ffff"/>
<rect x="102" y="420" width="1" height="1" fill="#00ffff"/>
<rect x="108" y="420" width="1" height="1" fill="#00ffff"/>
<rect x="114" y="420" width="1" height="1" fill="#00ffff"/>
<rect x="120" y="420" width="1" height="1" fill="#00ffff"/>
<rect x="126" y="420" width="1" height="1" fill="#00ffff"/>
<rect x="132" y="420" width="1" height="1" fill="#00ffff"/>
<rect x="138" y="420" width="1" height="1" fill="#00ffff"/>
<rect x="144" y="420" width="1" height="1" fill="#00ffff"/>
<rect x="150" y="420" width="1" height="1" fill="#00ffff"/>
<rect x="156" y="420" width="1" height="1" fill="#00ffff"/>
<rect x="162" y="420" width="1" height="1" fill="#00ffff"/>
<rect x="168" y="420" width="1" height="1" fill="#00ffff"/>
<rect x="174" y="420" width="1" height="1" fill="#00ffff"/>
<rect x="180" y="420" width="1" height="1" fill="#00ffff"/>
<rect x="186" y="420" width="1" height="1" fill="#00ffff"/>
<rect x="192" y="420" width="1" height="1" fill="#00ffff"/>
<rect x="198" y="420" width="1" height="1" fill="#00ffff"/>
<rect x="204" y="420" width="1" height="1" fill="#00ffff"/>
<rect x="210" y="420" width="1" height="1" fill="#00ffff"/>
<rect x="216" y="420" width="1" height="1" fill="#00ffff"/>
<rect x="222" y="420" width="1" height="1" fill="#00ffff"/>
<rect x="228" y="420" width="1" height="1" fill="#00ffff"/>
<rect x="234" y="420" width="1" height="1" fill="#00ffff"/>
<rect x="240" y="420" width="1" height="1" fill="#00ffff"/>
<rect x="246" y="420" width="1" height="1" fill="#00ffff"/>
<rect x="252" y="420" width="1" height="1" fill="#00ffff"/>
<rect x="258" y="420" width="1" height="1" fill="#00ffff"/>
<rect x="264" y="420" width="1" height="1" fill="#00ffff"/>
<rect x="270" y="420" width="1" height="1" fill="#00ffff"/>
<rect x="276" y="420" width="1" height="1" fill="#00ffff"/>
<rect x="282" y="420" width="1" height="1" fill="#00ffff"/>
<rect x="288" y="420" width="1" height="1" fill="#00ffff"/>
<rect x="294" y="420" width="1" height="1" fill="#00ffff"/>
<rect x="300" y="420" width="1" height="1" fill="#00ffff"/>
<rect x="306" y="420" width="1" height="1" fill="#00ffff"/>
<rect x="312" y="420" width="1" height="1" fill="#00ffff"/>
<rect x="318" y="420" width="1" height="1" fill="#00ffff"/>
<rect x="324" y="420" width="1" height="1" fill="#00ffff"/>
<rect x="330" y="420" width="1" height="1" fill="#00ffff"/>
<rect x="336" y="420" width="1" height="1" fill="#00ffff"/>
<rect x="342" y="420" width="1" height="1" fill="#00ffff"/>
<rect x="348" y="420" width="1" height="1" fill="#00ffff"/>
<rect x="354" y="420" width="1" height="1" fill="#00ffff"/>
<rect x="360" y="420" width="1" height="1" fill="#00ffff"/>
<rect x="366" y="420" width="1" height="1" fill="#00ffff"/>
<rect x="372" y="420" width="1" height="1" fill="#00ffff"/>
<rect x="378" y="420" width="1" height="1" fill="#00ffff"/>
<rect x="384" y="420" width="1" height="1" fill="#00ffff"/>
<rect x="390" y="420" width="1" height="1" fill="#00ffff"/>
<rect x="396" y="420" width="1" height="1" fill="#00ffff"/>
<rect x="402" y="420" width="1" height="1" fill="#00ffff"/>
<rect x="408" y="420" width="1" height="1" fill="#00ffff"/>
<rect x="414" y="420" width="1" height="1" fill="#00ffff"/>
<rect x="420" y="420" width="1" height="1" fill="#00ffff"/>
<rect x="426" y="420" width="1" height="1" fill="#00ffff"/>
<rect x="432" y="420" width="1" height="1" fill="#00ffff"/>
<rect x="438" y="420" width="1" height="1" fill="#00ffff"/>
<rect x="444" y="420" width="1" height="1" fill="#00ffff"/>
<rect x="450" y="420" width="1" height="1" fill="#00ffff"/>
<rect x="456" y="420" width="1" height="1" fill="#00ffff"/>
<rect x="462" y="420" width="1" height="1" fill="#00ffff"/>
<rect x="468" y="420" width="1" height="1" fill="#00ffff"/>
<rect x="474" y="420" width="1" height="1" fill="#00ffff"/>
<rect x="480" y="420" width="1" height="1" fill="#00ffff"/>
<rect x="486" y="420" width="1" height="1" fill="#00ffff"/>
<rect x="492" y="420" width="1" height="1" fill="#00ffff"/>
<rect x="498" y="420" width="1" height="1" fill="#00ffff"/>
<rect x="504" y="420" width="1" height="1" fill="#00ffff"/>
<rect x="510" y="420" width="1" height="1" fill="#00ffff"/>
<rect x="516" y="420" width="1" height="1" fill="#00ffff"/>
<rect x="522" y="420" width="1" height="1" fill="#00ffff"/>
<rect x="528" y="420" width="1" height="1" fill="#00ffff"/>
<rect x="534" y="420" width="1" height="1" fill="#00ffff"/>
<rect x="540" y="420" width="1" height="1" fill="#00ffff"/>
<rect x="546" y="420" width="1" height="1" fill="#00ffff"/>
<rect x="552" y="420" width="1" height="1" fill="#00ffff"/>
<rect x="558" y="420" width="1" height="1" fill="#00ffff"/>
<rect x="564" y="420" width="1" height="1" fill="#00ffff"/>
<rect x="570" y="420" width="1" height="1" fill="#00ffff"/>
<rect x="576" y="420" width="1" height="1" fill="#00ffff"/>
<rect x="582" y="420" width="1" height="1" fill="#00ffff"/>
<rect x="561" y="46" width="7" height="1" fill="#0000ff"/>
<rect x="564" y="43" width="1" height="7" fill="#0000ff"/>
<rect x="564" y="55" width="1" height="1" fill="#00ff00"/>
<rect x="562" y="56" width="1" height="1" fill="#00ff00"/>
<rect x="563" y="56" width="1" height="1" fill="#00ff00"/>
<rect x="565" y="56" width="1" height="1" fill="#00ff00"/>
<rect x="566" y="56" width="1" height="1" fill="#00ff00"/>
<rect x="561" y="57" width="1" height="1" fill="#00ff00"/>
<rect x="567" y="57" width="1" height="1" fill="#00ff00"/>
<rect x="561" y="58" width="1" height="1" fill="#00ff00"/>
<rect x="567" y="58" width="1" height="1" fill="#00ff00"/>
<rect x="561" y="59" width="1" height="1" fill="#00ff00"/>
<rect x="567" y="59" width="1" height="1" fill="#00ff00"/>
<rect x="562" y="60" width="1" height="1" fill="#00ff00"/>
<rect x="566" y="60" width="1" height="1" fill="#00ff00"/>
<rect x="563" y="61" width="1" height="1" fill="#00ff00"/>
<rect x="564" y="61" width="1" height="1" fill="#00ff00"/>
<rect x="565" y="61" width="1" height="1" fill="#00ff00"/>
<rect x="561.5" y="67.5" width="6" height="6" fill="none" stroke="#ffff00" stroke-width="1"/>
<path d="M47.5 354.5L48.5 353.5L48.5 360.5M55.5 353.5L54.5 353.5L53.5 354.5L52.5 356.5L52.5 357.5L53.5 359.5L54.5 360.5L55.5 360.5L56.5 360.5L57.5 359.5L57.5 357.5L57.5 356.5L57.5 354.5L56.5 353.5L55.5 353.5M59.5 353.5L63.5 353.5M66.5 350.5L65.5 351.5L65.5 352.5L66.5 352.5L67.5 352.5L67.5 353.5L68.5 353.5L68.5 354.5L68.5 355.5L67.5 355.5L66.5 355.5L65.5 355.5L65.5 354.5L65.5 353.5L66.5 353.5L66.5 352.5L67.5 352.5L68.5 352.5L68.5 351.5L67.5 350.5L66.5 350.5M47.5 281.5L48.5 280.5L48.5 287.5M55.5 280.5L54.5 280.5L53.5 281.5L52.5 283.5L52.5 284.5L53.5 286.5L54.5 287.5L55.5 287.5L56.5 287.5L57.5 286.5L57.5 284.5L57.5 283.5L57.5 281.5L56.5 280.5L55.5 280.5M59.5 280.5L63.5 280.5M68.5 278.5L67.5 277.5L66.5 277.5L66.5 278.5L65.5 278.5L65.5 279.5L65.5 280.5L65.5 281.5L66.5 282.5L67.5 282.5L68.5 281.5L68.5 280.5L67.5 279.5L66.5 279.5L65.5 280.5M46.5 207.5L47.5 207.5L48.5 206.5L48.5 213.5M54.5 206.5L53.5 206.5L53.5 207.5L52.5 209.5L52.5 210.5L53.5 212.5L53.5 213.5L54.5 213.5L55.5 213.5L56.5 213.5L57.5 212.5L57.5 210.5L57.5 209.5L57.5 207.5L56.5 206.5L55.5 206.5L54.5 206.5M59.5 206.5L63.5 206.5M67.5 203.5L65.5 206.5L68.5 206.5M67.5 203.5L67.5 208.5M47.5 134.5L48.5 133.5L48.5 140.5M55.5 133.5L54.5 133.5L53.5 134.5L52.5 136.5L52.5 137.5L53.5 139.5L54.5 140.5L55.5 140.5L56.5 140.5L57.5 139.5L57.5 137.5L57.5 136.5L57.5 134.5L56.5 133.5L55.5 133.5M59.5 133.5L63.5 133.5M65.5 132.5L65.5 131.5L66.5 131.5L66.5 130.5L67.5 130.5L67.5 131.5L68.5 131.5L68.5 132.5L67.5 133.5L65.5 135.5L68.5 135.5M52.5 60.5L53.5 60.5L54.5 59.5L54.5 66.5M60.5 59.5L59.5 59.5L59.5 60.5L58.5 62.5L58.5 63.5L59.5 65.5L59.5 66.5L60.5 66.5L61.5 66.5L62.5 66.5L63.5 65.5L63.5 63.5L63.5 62.5L63.5 60.5L62.5 59.5L61.5 59.5L60.5 59.5M66.5 56.5L66.5 57.5L65.5 57.5L65.5 58.5L65.5 59.5L65.5 60.5L66.5 61.5L67.5 61.5L68.5 60.5L68.5 59.5L68.5 58.5L68.5 57.5L67.5 57.5L67.5 56.5L66.5 56.5M57.5 369.5L58.5 369.5L59.5 368.5L59.5 374.5M65.5 368.5L64.5 368.5L64.5 369.5L63.5 371.5L64.5 373.5L64.5 374.5L65.5 374.5L66.5 374.5L67.5 374.5L68.5 373.5L68.5 371.5L68.5 369.5L67.5 368.5L66.5 368.5L65.5 368.5M67.5 391.5L64.5 391.5L64.5 394.5L64.5 393.5L65.5 393.5L66.5 393.5L67.5 393.5L68.5 394.5L68.5 395.5L68.5 396.5L67.5 397.5L66.5 397.5L65.5 397.5L64.5 397.5L64.5 396.5L63.5 396.5M65.5 417.5L64.5 417.5L64.5 418.5L63.5 420.5L64.5 422.5L64.5 423.5L65.5 423.5L66.5 423.5L67.5 423.5L68.5 422.5L68.5 420.5L68.5 418.5L67.5 417.5L66.5 417.5L65.5 417.5M55.5 447.5L61.5 447.5M67.5 444.5L64.5 444.5L64.5 447.5L64.5 446.5L65.5 446.5L66.5 446.5L67.5 446.5L68.5 447.5L68.5 448.5L68.5 449.5L67.5 450.5L66.5 450.5L65.5 450.5L64.5 450.5L64.5 449.5L63.5 449.5M48.5 469.5L54.5 469.5M57.5 467.5L58.5 467.5L59.5 466.5L59.5 472.5M65.5 466.5L64.5 466.5L64.5 467.5L63.5 469.5L64.5 471.5L64.5 472.5L65.5 472.5L66.5 472.5L67.5 472.5L68.5 471.5L68.5 469.5L68.5 467.5L67.5 466.5L66.5 466.5L65.5 466.5M144.5 482.5L145.5 482.5L146.5 481.5L146.5 487.5M151.5 481.5L150.5 481.5L150.5 482.5L149.5 484.5L150.5 486.5L150.5 487.5L151.5 487.5L152.5 487.5L153.5 487.5L154.5 486.5L154.5 484.5L154.5 482.5L153.5 481.5L152.5 481.5L151.5 481.5M566.5 482.5L567.5 481.5L567.5 487.5M573.5 481.5L572.5 481.5L572.5 482.5L571.5 484.5L572.5 486.5L572.5 487.5L573.5 487.5L574.5 487.5L575.5 487.5L575.5 486.5L576.5 484.5L575.5 482.5L575.5 481.5L574.5 481.5L573.5 481.5M580.5 481.5L579.5 481.5L578.5 482.5L578.5 484.5L578.5 486.5L579.5 487.5L580.5 487.5L581.5 487.5L582.5 486.5L582.5 484.5L582.5 482.5L581.5 481.5L580.5 481.5M296.5 494.5L296.5 500.5M296.5 494.5L300.5 494.5M296.5 497.5L299.5 497.5M296.5 500.5L300.5 500.5M302.5 496.5L302.5 500.5M302.5 497.5L303.5 496.5L304.5 496.5L305.5 496.5L306.5 497.5L306.5 500.5M308.5 498.5L312.5 498.5L312.5 497.5L311.5 497.5L311.5 496.5L310.5 496.5L309.5 496.5L308.5 497.5L308.5 498.5L308.5 499.5L309.5 500.5L310.5 500.5L311.5 500.5L312.5 499.5M314.5 496.5L314.5 500.5M314.5 498.5L314.5 497.5L315.5 496.5L316.5 496.5M322.5 496.5L322.5 501.5L321.5 501.5L321.5 502.5L320.5 502.5L319.5 502.5M322.5 497.5L321.5 496.5L320.5 496.5L319.5 496.5L318.5 497.5L318.5 498.5L318.5 499.5L319.5 500.5L320.5 500.5L321.5 500.5L322.5 499.5M324.5 496.5L325.5 500.5M327.5 496.5L325.5 500.5L325.5 501.5L324.5 502.5L323.5 502.5M337.5 493.5L336.5 493.5L335.5 494.5L335.5 495.5L334.5 497.5L334.5 498.5L335.5 499.5L335.5 501.5L336.5 501.5L337.5 502.5M339.5 494.5L339.5 500.5M342.5 496.5L339.5 499.5M340.5 498.5L342.5 500.5M344.5 498.5L348.5 498.5L348.5 497.5L347.5 496.5L346.5 496.5L345.5 496.5L344.5 497.5L344.5 498.5L344.5 499.5L345.5 500.5L346.5 500.5L347.5 500.5L348.5 499.5M349.5 494.5L352.5 500.5M354.5 494.5L352.5 500.5M356.5 493.5L357.5 494.5L357.5 495.5L358.5 497.5L358.5 498.5L357.5 499.5L357.5 501.5L356.5 501.5L356.5 502.5M471.5 15.5L471.5 20.5M469.5 15.5L472.5 15.5M473.5 15.5L474.5 15.5L473.5 15.5M474.5 17.5L474.5 20.5M475.5 17.5L475.5 20.5M475.5 18.5L476.5 17.5L477.5 17.5L478.5 17.5L478.5 18.5L478.5 20.5M478.5 18.5L479.5 17.5L480.5 17.5L481.5 18.5L481.5 20.5M482.5 18.5L485.5 18.5L485.5 17.5L484.5 17.5L483.5 17.5L482.5 18.5L482.5 19.5L483.5 19.5L483.5 20.5L484.5 20.5L485.5 20.5L485.5 19.5M489.5 17.5L488.5 17.5L487.5 17.5L487.5 18.5L489.5 18.5L489.5 19.5L489.5 20.5L488.5 20.5L487.5 20.5L487.5 19.5M491.5 17.5L491.51 17.5M491.5 20.5L491.51 20.5M497.5 18.5L501.5 18.5M504.5 16.5L505.5 15.5L505.5 20.5M508.5 15.5L511.5 15.5L509.5 17.5L510.5 17.5L511.5 17.5L511.5 18.5L511.5 19.5L510.5 20.5L509.5 20.5L508.5 20.5L508.5 19.5M513.5 20.5L513.51 20.5M518.5 16.5L518.5 15.5L517.5 15.5L516.5 15.5L515.5 16.5L515.5 17.5L515.5 18.5L515.5 19.5L516.5 20.5L517.5 20.5L518.5 20.5L518.5 19.5L518.5 18.5L518.5 17.5L517.5 17.5L516.5 17.5L515.5 18.5M520.5 16.5L520.5 15.5L521.5 15.5L522.5 15.5L523.5 15.5L523.5 16.5L523.5 17.5L522.5 18.5L520.5 20.5L523.5 20.5M526.5 15.5L525.5 15.5L525.5 16.5L524.5 17.5L524.5 18.5L525.5 19.5L525.5 20.5L526.5 20.5L527.5 20.5L528.5 19.5L528.5 18.5L528.5 17.5L528.5 16.5L527.5 15.5L526.5 15.5M530.5 17.5L529.5 17.5L530.5 17.5M530.5 20.5L529.5 20.5L530.5 20.5M536.5 18.5L540.5 18.5M542.5 16.5L543.5 16.5L543.5 15.5L543.5 20.5M547.5 20.5L547.51 20.5M549.5 15.5L552.5 15.5L550.5 17.5L551.5 17.5L552.5 17.5L552.5 18.5L552.5 19.5L551.5 20.5L550.5 20.5L549.5 20.5L549.5 19.5M554.5 15.5L557.5 15.5L555.5 17.5L556.5 17.5L557.5 17.5L557.5 18.5L557.5 19.5L556.5 20.5L555.5 20.5L554.5 20.5L553.5 19.5M558.5 16.5L559.5 15.5L560.5 15.5L561.5 15.5L561.5 16.5L561.5 17.5L561.5 18.5L558.5 20.5L562.5 20.5M569.5 17.5L568.5 17.5L567.5 17.5L567.5 18.5L568.5 18.5L569.5 18.5L569.5 19.5L569.5 20.5L568.5 20.5L567.5 20.5L567.5 19.5M32.5 255.5L38.5 255.5M32.5 255.5L32.5 252.5L32.5 251.5L33.5 251.5L34.5 251.5L35.5 251.5L35.5 252.5L35.5 255.5M35.5 253.5L38.5 251.5M34.5 245.5L38.5 245.5M35.5 245.5L34.5 245.5L34.5 246.5L34.5 247.5L34.5 248.5L35.5 248.5L36.5 249.5L37.5 248.5L38.5 248.5L38.5 247.5L38.5 246.5L38.5 245.5L37.5 245.5M32.5 242.5L37.5 242.5L38.5 242.5L38.5 241.5L38.5 240.5M34.5 243.5L34.5 241.5M36.5 239.5L36.5 235.5L35.5 235.5L34.5 235.5L34.5 236.5L34.5 237.5L34.5 238.5L35.5 238.5L36.5 239.5L37.5 238.5L38.5 238.5L38.5 237.5L38.5 236.5L38.5 235.5L37.5 235.5M31.5 225.5L31.5 226.5L32.5 227.5L33.5 227.5L35.5 227.5L36.5 227.5L37.5 227.5L39.5 227.5L39.5 226.5L40.5 225.5M35.5 219.5L34.5 220.5L34.5 221.5L34.5 222.5L35.5 223.5L36.5 223.5L37.5 223.5L38.5 222.5L38.5 221.5L38.5 220.5L37.5 219.5M34.5 216.5L34.5 217.5L35.5 217.5L36.5 218.5L37.5 217.5L38.5 217.5L38.5 216.5L38.5 215.5L38.5 214.5L37.5 214.5L36.5 213.5L35.5 214.5L34.5 214.5L34.5 215.5L34.5 216.5M34.5 211.5L37.5 211.5L38.5 211.5L38.5 210.5L38.5 209.5L37.5 208.5M34.5 208.5L38.5 208.5M34.5 205.5L38.5 205.5M35.5 205.5L34.5 204.5L34.5 203.5L34.5 202.5L35.5 202.5L38.5 202.5M32.5 199.5L37.5 199.5L38.5 198.5L38.5 197.5M34.5 200.5L34.5 197.5M35.5 192.5L34.5 192.5L34.5 193.5L34.5 194.5L34.5 195.5L35.5 195.5L36.5 195.5L36.5 193.5L36.5 192.5L37.5 192.5L38.5 192.5L38.5 193.5L38.5 194.5L38.5 195.5L37.5 195.5M35.5 181.5L34.5 182.5L34.5 183.5L34.5 184.5L34.5 185.5L35.5 185.5L36.5 184.5L36.5 182.5L37.5 181.5L38.5 182.5L38.5 183.5L38.5 184.5L38.5 185.5L37.5 185.5M32.5 180.5L32.5 176.5M30.5 174.5L30.5 173.5L29.5 173.5L34.5 173.5M32.5 164.5L38.5 164.5M34.5 161.5L37.5 164.5M36.5 163.5L38.5 161.5M36.5 159.5L36.5 156.5L35.5 156.5L34.5 156.5L34.5 157.5L34.5 158.5L35.5 159.5L36.5 159.5L37.5 159.5L38.5 158.5L38.5 157.5L38.5 156.5L37.5 156.5M32.5 154.5L38.5 152.5M32.5 149.5L38.5 152.5M32.5 148.5L32.5 144.5M30.5 142.5L29.5 141.5L34.5 141.5M31.5 138.5L32.5 137.5L33.5 136.5L35.5 136.5L36.5 136.5L37.5 136.5L39.5 137.5L39.5 138.5L40.5 138.5M524.5 43.5L524.5 49.5M524.5 43.5L528.5 49.5M528.5 43.5L528.5 49.5M533.5 43.5L530.5 49.5M533.5 43.5L535.5 49.5M531.5 47.5L534.5 47.5M537.5 43.5L537.5 49.5M538.5 49.5L543.5 49.5M546.5 43.5L545.5 43.5L544.5 44.5L544.5 46.5L544.5 48.5L545.5 49.5L546.5 49.5L547.5 49.5L548.5 49.5L548.5 48.5L549.5 46.5L548.5 44.5L548.5 43.5L547.5 43.5L546.5 43.5M551.5 44.5L552.5 43.5L553.5 43.5L554.5 43.5L554.5 44.5L555.5 44.5L555.5 45.5L554.5 45.5L554.5 46.5L551.5 49.5L555.5 49.5M524.5 55.5L524.5 61.5M524.5 55.5L528.5 61.5M528.5 55.5L528.5 61.5M533.5 55.5L530.5 61.5M533.5 55.5L535.5 61.5M531.5 59.5L534.5 59.5M537.5 55.5L537.5 61.5M538.5 61.5L543.5 61.5M546.5 55.5L545.5 55.5L544.5 56.5L544.5 58.5L544.5 60.5L545.5 61.5L546.5 61.5L547.5 61.5L548.5 61.5L548.5 60.5L549.5 58.5L548.5 56.5L548.5 55.5L547.5 55.5L546.5 55.5M555.5 57.5L554.5 58.5L553.5 59.5L552.5 59.5L552.5 58.5L551.5 58.5L551.5 57.5L551.5 56.5L552.5 55.5L553.5 55.5L554.5 55.5L554.5 56.5L555.5 57.5L555.5 58.5L554.5 60.5L554.5 61.5L553.5 61.5L552.5 61.5L551.5 61.5L551.5 60.5M524.5 67.5L524.5 73.5M524.5 67.5L528.5 73.5M528.5 67.5L528.5 73.5M533.5 67.5L530.5 73.5M533.5 67.5L535.5 73.5M531.5 71.5L534.5 71.5M537.5 67.5L537.5 73.5M538.5 73.5L543.5 73.5M545.5 68.5L546.5 68.5L547.5 67.5L547.5 73.5M552.5 67.5L551.5 68.5L551.5 70.5L551.5 72.5L552.5 73.5L553.5 73.5L554.5 73.5L555.5 72.5L555.5 70.5L555.5 68.5L554.5 67.5L553.5 67.5L552.5 67.5" fill="none" stroke="#fff" stroke-width="1" stroke-linecap="square"/>
</svg>
</body></html>
